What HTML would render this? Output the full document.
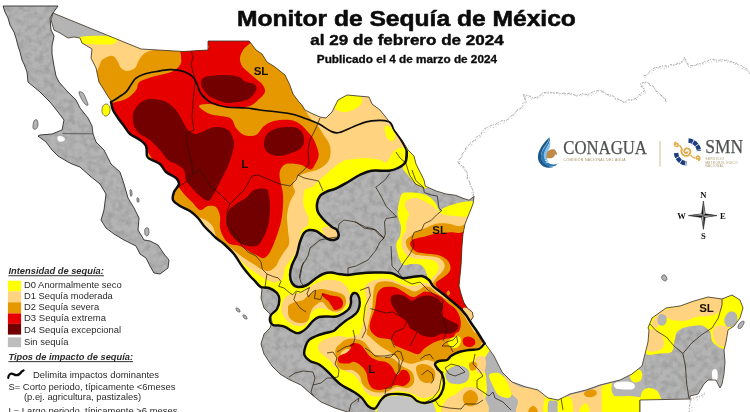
<!DOCTYPE html>
<html lang="es"><head><meta charset="utf-8"><title>Monitor de Sequía de México</title>
<style>html,body{margin:0;padding:0;background:#fff}body{width:750px;height:412px;overflow:hidden;position:relative;font-family:"Liberation Sans",Arial,sans-serif}svg{position:absolute;left:0;top:0;display:block}text{font-family:"Liberation Sans",Arial,sans-serif}.sf{font-family:"Liberation Serif","Times New Roman",serif}</style></head><body>
<svg width="750" height="412" viewBox="0 0 750 412">
<defs><clipPath id="land"><path d="M53 13 L141 49 L183 51.5 L208 50 L208 41 L249 41 L250 42 L256 50 L262 54 L267 62 L275 67 L285 75 L289.6 84.5 L293 94 L299 102 L301.5 104.5 L305 110 L313 114 L320 117 L326 118 L332 112 L335 106 L338 100 L347 95 L358 96 L369 97 L372 104 L380 110 L388 120 L394 130 L402 140 L408 150 L414 156 L416 164 L424 180 L425.3 186.2 L436.3 191 L446 194 L455.7 195.3 L463 198.3 L469 200.2 L474 196.5 L473 204 L469 214 L465 224 L463 234 L462 246 L461 266 L459 286 L461.4 295 L463.8 302.3 L467.5 308.3 L472.3 312 L473.2 316.8 L470.5 321 L474 327 L476 330 L484 342 L494 356 L502 372 L512 382 L526 387 L538 390 L548 398 L558 400 L570 394 L586 390 L600 385 L608 383 L620 380 L632 374 L642 366 L645 354 L648 342 L649 330 L648 328 L652 318 L666 308 L680 306 L694 301 L708 297 L722 299 L732 295 L740 300 L743 308 L740 318 L734 326 L728 330 L726 342 L724 350 L725 362 L724 374 L722 384 L720 388 L716 380 L708 380 L704 384 L698 394 L690 396 L690 399 L640 400 L640 414 L349 414 L349 412.5 L335 408 L321 402 L311 394 L301 385 L290 380 L280 374 L272 366 L264 354 L261 344 L264 334 L270 328 L272 322 L270 314 L264 308 L261 298 L262 289 L258 286 L250 276 L242 266 L234 254 L225 246 L224 244 L216 238 L210 232 L204 226 L198 218 L190 211 L180 206 L173 200 L174 192 L179 184 L176 178 L166 172 L160 164 L150 159 L147 156 L146 146 L140 140 L130 134 L124 126 L118 118 L113 110 L112 102 L109 98 L104 90 L99 82 L96 68 L91 58 L92 49 L82 43 L80 38 L74 37 L68 38 L60 33 L54 30 L51 20Z"/></clipPath>
<clipPath id="greys"><path d="M406.7 151.6 L405.5 162 L398 168 L389 170.7 L371.5 170.7 L359.7 175 L348 182 L336 188.5 L328 191 L320 196 L317 204 L318 212 L324 220 L332 227 L337 230 L338.4 237 L334 240 L328 239 L322 235 L316 231 L309 230 L304 233 L300 242 L297 254 L292 265 L290 275 L292 283 L298 287 L307 285 L315 279 L323 274 L331 272.6 L339 274 L348 275 L359 273.4 L375 272.6 L391 273 L402 278 L412 277 L422 276 L429 280 L427 275.2 L426 272 L423.8 267.8 L419.6 264.6 L411 264 L403.5 265 L399.5 259 L397 250.7 L396.5 243 L400 236 L401 227 L399 220 L397.5 213 L399 203 L401.8 194 L408.7 192.5 L420.9 193.4 L427.8 196 L433 200 L436.5 205 L439.9 211.6 L443.5 208 L453 204.4 L463 202 L470 201.3 L480 201 L480 185 L440 186 L426 187 L417 183.5 L411 175 L407 163Z"/><path d="M255 300 L261 287 L269 288 L277 293 L279.4 300 L277 309 L271 315 L270 321 L273 325 L279 325.5 L285 326.8 L291 330.5 L296 333 L300.8 332.3 L306.8 328 L313 320.8 L319 317 L327.5 316.5 L336 316.5 L343 313.5 L349 308.6 L351 303 L351 297 L354 293 L358 295 L359.8 303 L357.8 311 L353 316 L345.7 320.8 L337 328 L333.5 331 L323.8 333.5 L315 336.5 L309 340 L305.6 346 L304.4 354.7 L310 361 L320 365 L330 374 L340 384 L354 392 L362 398 L368 406 L375 408.5 L376 416 L250 416Z"/><path d="M676.5 333 L686.7 327 L702 325.6 L709.5 330.7 L712 340.8 L722 348.4 L730 348.4 L730 392 L690 402 L640 402 L640 414 L614 414 L614 397 L612 390 L616 381 L630 380 L644 384 L644 366 L647 354 L660 353 L671.5 352 L674 343Z"/></clipPath>
<clipPath id="bajac"><path d="M3 6 L58 6 L53 13 L50 18 L51 30 L54 36 L52 46 L52 54 L54 66 L56 76 L59 82 L66 90 L76 100 L80 108 L88 118 L92 126 L93 134 L96 142 L104 150 L108 158 L111 164 L120 172 L124 184 L128 198 L134 208 L139 218 L138 230 L144 240 L150 241 L158 245 L164 254 L169 260 L168 268 L160 274 L154 273 L150 266 L146 258 L140 254 L136 246 L124 240 L114 234 L106 228 L101 220 L104 210 L106 194 L100 184 L90 176 L80 167 L72 164 L68 162 L58 156 L52 150 L46 142 L38 136 L40 135 L52 134 L62 130 L64 120 L58 112 L50 102 L40 92 L28 82 L27 72 L24 64 L22 60 L20 52 L18 46 L16 38 L14 32 L10 25 L8 18 L5 12Z"/></clipPath>
<filter id="relief" x="0" y="0" width="100%" height="100%"><feTurbulence type="fractalNoise" baseFrequency="0.16" numOctaves="3" seed="11" result="n"/><feColorMatrix in="n" type="matrix" values="0 0 0 0 0.15  0 0 0 0 0.15  0 0 0 0 0.15  1.1 0 0 0 -0.42"/></filter>
<filter id="soft" x="-5%" y="-5%" width="110%" height="110%"><feGaussianBlur stdDeviation="0.35"/></filter></defs>
<path d="M689.7 398.4 L690.3 400.7 L690.1 403.8 L689.2 406.5 L689.2 408.9 L689.2 410.8 L690 414" fill="none" stroke="#6e6e6e" stroke-width="0.6" stroke-dasharray="2.6 0.9 1.2 1.4"/>
<path d="M690.6 401.1 L689.8 401.7 L691.1 405.7 L691 406.5 L692 407.7 L691.7 410.5 L689.9 412.2 L690.8 415.3" fill="none" stroke="#8a8a8a" stroke-width="0.5" stroke-dasharray="1.4 1.8 0.8 2.4"/>
<path d="M689.7 399.6 L691.9 398.6 L695.3 397.8 L697.6 396.7 L699.2 396.5 L702.3 395.2 L703.7 393.8 L706 392" fill="none" stroke="#6e6e6e" stroke-width="0.6" stroke-dasharray="2.6 0.9 1.2 1.4"/>
<path d="M690.7 399.8 L693.6 400.4 L694.1 399.7 L696.9 400.1 L699.4 398.1 L702 397.3 L702.6 397.3 L703.9 394.9 L706.8 393.3" fill="none" stroke="#8a8a8a" stroke-width="0.5" stroke-dasharray="1.4 1.8 0.8 2.4"/>
<path d="M473.2 196.3 L473.5 193.1 L472.7 189.7 L471.6 187.8 L470.5 185.1 L470.2 183.6 L468.8 180.7 L467.2 178.4 L467.5 176.4 L467.1 172.6 L465.5 170.8 L464.1 167.9 L462.7 165.8 L460.7 165.5 L459.1 163 L457.8 162.7 L458.4 159.9 L460.4 158.7 L462 156.7 L462.2 153.8 L463.5 152.7 L465.7 149.4 L465.4 147.5 L467.1 146.4 L469.4 144.4 L469.9 143.1 L472.2 141.7 L474.8 140.3 L475.7 138.5 L477.7 135.9 L479.7 135.5 L481.3 133.9 L482.1 131.5 L483.3 130.2 L485.2 128.2 L487.5 127.4 L489.7 126.2 L491.1 125.4 L493.3 124.8 L495.1 124.7 L498.5 122.4 L500.2 121.7 L502.8 120.3 L506 120.9 L507.6 119 L509.3 117.3 L511.4 115.9 L513.9 114.1 L514.1 113.8 L516.7 110.7 L518.4 108.8 L520.1 108.9 L522.2 106.4 L522.6 103.8 L523.9 102.5 L526.1 100.5 L524.4 97.5 L523.9 96.9 L522.6 94.6 L525 95.2 L526.3 95.6 L528.9 95.6 L530.8 96.8 L533.6 98.3 L536.8 96.9 L538.8 96.9 L540.8 94.8 L541.5 93.5 L543.5 92.5 L546.2 92.7 L548.9 92.1 L550.8 92.8 L552.1 92.7 L555.9 93.1 L557.9 92.7 L559.1 93.4 L561.7 93.5 L565.1 93.1 L566.3 94.3 L569.2 93.2 L570.3 93.4 L574 94.8 L574.9 95.1 L578.6 95 L579.7 95.1 L581.8 93.6 L585.8 94.3 L587.5 94.3 L589.9 93.7 L593.1 91.7 L594.6 91.1 L597 90.9 L599.6 89.9 L601.3 91.7 L603.7 91.9 L606.2 93.7 L607.9 94.8 L610 95.1 L612 95.1 L613.9 96.4 L615.1 98.5 L617.4 99 L620.4 100.1 L621.7 101 L624.1 102.5 L625.7 101.3 L628.3 100 L631.7 99.6 L633.7 99.3 L636.7 97.9 L637.8 96.4 L639.2 95.1 L640.7 93.3 L642.4 92.4 L644.4 90.7 L643.5 87.6 L641.4 86.8 L640.6 83.3 L642 83.2 L644.6 82.2 L647.2 82.3 L650.1 84.3 L650.6 85.6 L653.1 86.2 L655.1 89.2 L655.5 90.8 L657.4 91.6 L660.1 93.8 L660.2 94.7 L662.4 96.1 L663.5 97.7 L665.4 99.1 L666 102" fill="none" stroke="#6e6e6e" stroke-width="0.6" stroke-dasharray="2.6 0.9 1.2 1.4"/>
<path d="M474.9 197.1 L472.9 194.9 L473.8 193.3 L471.7 192.6 L472.9 190.5 L470.4 186.7 L469.6 186 L469.5 182.3 L469.3 182.4 L469.6 178.7 L467.3 178.4 L467.8 175.8 L465.9 172.1 L466.9 171.1 L464.7 170.4 L464.4 168.6 L461.2 167.2 L459.4 165.7 L458.7 162.9 L459.9 162.7 L460.2 158.8 L461.9 157.4 L461.8 155.4 L462.6 153.8 L464.3 152.3 L466.5 150.5 L466.8 148.5 L468 146.4 L469.4 144.8 L472.2 144.6 L472.4 142.8 L475.9 140.3 L477.1 139.7 L477.6 139.3 L478.8 137 L481 136.8 L481.5 135 L483.9 133.1 L484.6 130.9 L485.6 129.3 L487.7 129.9 L490.2 127.4 L491.7 128.2 L495.8 126.7 L496.2 124.6 L498.3 124.3 L499.9 123.4 L502.2 123.9 L506 122 L506.1 122.2 L508.3 119.8 L509.5 119 L512.2 117.9 L512.9 116.5 L513.8 114.4 L515.4 113.3 L516.8 110.9 L518.9 110 L521 109.4 L522.7 108.1 L523.8 107.1 L524.1 104 L526.9 102 L527.4 101.7 L524.3 100.2 L525.2 97.6 L523.4 96.1 L523.9 96 L526.8 97.5 L529.6 98.1 L531 99 L533.3 99.1 L534.1 98.1 L535.8 97.9 L537.8 98.2 L541 96.6 L543.1 95.8 L544.8 93 L547.6 93.9 L548.8 93.5 L551.2 92.4 L553.4 93 L553.7 93.2 L557.4 93.2 L559.4 95.3 L560.8 93.9 L562.7 94.8 L565.5 94.8 L567.2 93.6 L567.9 94.3 L571.4 94.7 L573 94.1 L573.7 95 L577.2 96.4 L579.3 95.5 L580.8 96.2 L582.7 94.9 L585.8 94.7 L588 96.2 L587.5 94.6 L591.6 95.5 L592.7 93.1 L594 94.3 L596 92.7 L597.9 92 L602 90.3 L603.6 92.3 L605.8 93.8 L606.1 95.3 L608.8 94.1 L609.5 96.3 L612.7 96.8 L613.9 97.9 L616.3 100.2 L617.5 101 L621.7 100.3 L623.9 102.9 L625.8 102.8 L626.5 102.4 L630.1 102.2 L630.4 101.1 L632.2 99.5 L633.8 100.8 L636.2 100.4 L637.7 97.1 L640 95.3 L641.3 95.7 L644.2 93.7 L645.1 92.4 L644.6 89.4 L642.7 86.1 L641.4 85.2 L643.5 85.2 L644.2 83.1 L647.9 82.8 L648.7 82.9 L649.9 85.5 L653.2 85.9 L654 87.6 L655.3 89.4 L655.9 90.4 L657.6 94 L660 93.8 L662.7 97.4 L663.1 96.8 L664 98.2 L665.4 100.2 L666.8 103.3" fill="none" stroke="#8a8a8a" stroke-width="0.5" stroke-dasharray="1.4 1.8 0.8 2.4"/>
<path d="M643.5 75.6 L646 75.4 L648.1 73.2 L649.3 72 L651.1 70.4 L652.4 68.9 L655.8 67.3 L657.5 67.7 L660.7 66.5 L662.1 66 L664.8 65.9 L668.4 66.2 L670.9 64.3 L672 65.2 L676.1 64.4 L678.2 63.1 L679.6 63.3 L682.1 61.6 L684.1 59 L684.3 57.4 L686 61 L687.8 63.7 L688.3 66.5 L690.3 65.7 L692 65.7 L694.7 65.6 L697.9 64 L699.3 63.6 L702.7 63.4 L704.3 61.2 L707.5 61.1 L709.8 59.5 L712.7 59.1 L714.6 59.9 L718.3 60.3 L720.7 60 L722 59.5 L725.8 60.4 L727.2 59.9 L730 61.8 L732.4 61.8 L735.3 63.8 L736.5 63.2 L738.7 64.9 L741.3 65.5 L743.5 67.4 L745 67.5 L747.5 69.7 L748.9 71.5 L750 74" fill="none" stroke="#6e6e6e" stroke-width="0.6" stroke-dasharray="2.6 0.9 1.2 1.4"/>
<path d="M644.1 78 L646.1 77.1 L648.5 73.8 L649.6 73.1 L652.6 73.1 L653 70.4 L655.1 70.5 L656.9 67.7 L658.7 68.2 L662.8 69.1 L664.4 69 L666.9 66.9 L667.1 68.1 L670.8 65.4 L672.7 66 L674.1 65.5 L675.8 64.3 L678.2 64.9 L681.7 62.8 L683.5 61.5 L683.7 61.6 L686.6 59.1 L685.4 61.2 L687 64.4 L687.3 64.9 L689.8 66.1 L690.6 67.8 L693.5 65.4 L693.6 65.2 L697.9 65.3 L699.4 66.7 L700.4 64.7 L704 64.8 L704.2 64.3 L706.3 62.3 L707.5 62.8 L711.9 61.6 L714.1 60.1 L714.4 61.2 L718.4 62.5 L719.1 60.7 L721.3 61.3 L724.8 60.5 L726.6 61.9 L728.6 62.6 L730.1 62.1 L731.3 62.7 L734.5 62.6 L735 65 L737.1 64.2 L738.6 66.4 L741.3 68.5 L744.8 69.6 L745.2 68.2 L746.4 71.3 L749.7 73.2 L750.8 75.3" fill="none" stroke="#8a8a8a" stroke-width="0.5" stroke-dasharray="1.4 1.8 0.8 2.4"/>
<g filter="url(#soft)">
<path d="M3 6 L58 6 L53 13 L50 18 L51 30 L54 36 L52 46 L52 54 L54 66 L56 76 L59 82 L66 90 L76 100 L80 108 L88 118 L92 126 L93 134 L96 142 L104 150 L108 158 L111 164 L120 172 L124 184 L128 198 L134 208 L139 218 L138 230 L144 240 L150 241 L158 245 L164 254 L169 260 L168 268 L160 274 L154 273 L150 266 L146 258 L140 254 L136 246 L124 240 L114 234 L106 228 L101 220 L104 210 L106 194 L100 184 L90 176 L80 167 L72 164 L68 162 L58 156 L52 150 L46 142 L38 136 L40 135 L52 134 L62 130 L64 120 L58 112 L50 102 L40 92 L28 82 L27 72 L24 64 L22 60 L20 52 L18 46 L16 38 L14 32 L10 25 L8 18 L5 12Z" fill="#b4b4b4" stroke="#2a2a2a" stroke-width="0.9" stroke-linejoin="round"/>
<path d="M57 137C57.3 136.1 59.7 135.8 61 136C62.3 136.2 64.5 137.2 65 138C65.5 138.8 65 140.4 64 141C63 141.6 60.2 142.2 59 141.5C57.8 140.8 56.7 137.9 57 137Z" fill="#ffffff" stroke="none" stroke-width="0.6"/>
<path d="M79 92C79.3 91.2 81.8 91.8 83 93C84.2 94.2 85.2 97 86 99C86.8 101 88.2 104.2 88 105C87.8 105.8 86.2 105.2 85 104C83.8 102.8 82 100 81 98C80 96 78.7 92.8 79 92Z" fill="#b4b4b4" stroke="#333" stroke-width="0.6"/>
<path d="M103 106C103.8 104.7 105.8 103.7 107 104C108.2 104.3 109.7 106.3 110 108C110.3 109.7 109.8 112.7 109 114C108.2 115.3 106.2 116.3 105 116C103.8 115.7 102.3 113.7 102 112C101.7 110.3 102.2 107.3 103 106Z" fill="#ffff00" stroke="#333" stroke-width="0.6"/>
<path d="M34 121C34.7 119.7 36.3 119.3 37 120C37.7 120.7 38.2 123.5 38 125C37.8 126.5 36.8 128.5 36 129C35.2 129.5 33.3 129.3 33 128C32.7 126.7 33.3 122.3 34 121Z" fill="#b4b4b4" stroke="#333" stroke-width="0.6"/>
<path d="M145 229C145.5 228 147.3 227.3 148 228C148.7 228.7 149.2 231.7 149 233C148.8 234.3 147.7 235.8 147 236C146.3 236.2 145.3 235.2 145 234C144.7 232.8 144.5 230 145 229Z" fill="#b4b4b4" stroke="#333" stroke-width="0.6"/>
<path d="M130 190C130.2 189.1 131.3 189.7 131.6 190.5C131.9 191.3 132.2 194.1 132 195C131.8 195.9 130.9 196.8 130.6 196C130.3 195.2 129.8 190.9 130 190Z" fill="#b4b4b4" stroke="#333" stroke-width="0.6"/>
<path d="M137 198C137.2 197.4 138.3 197.8 138.6 198.4C138.9 199 139.2 201 139 201.6C138.8 202.2 137.7 202.6 137.4 202C137.1 201.4 136.8 198.6 137 198Z" fill="#b4b4b4" stroke="#333" stroke-width="0.6"/>
<path d="M236 308C236.3 307.7 238.3 308.3 239 309C239.7 309.7 240.3 311.7 240 312C239.7 312.3 237.7 311.7 237 311C236.3 310.3 235.7 308.3 236 308Z" fill="#b4b4b4" stroke="#333" stroke-width="0.6"/>
<path d="M243 315C243.3 314.7 245.3 315.3 246 316C246.7 316.7 247.3 318.7 247 319C246.7 319.3 244.7 318.7 244 318C243.3 317.3 242.7 315.3 243 315Z" fill="#b4b4b4" stroke="#333" stroke-width="0.6"/>
<path d="M662 276C662.5 275.3 664.2 274.5 665 275C665.8 275.5 667 278 667 279C667 280 665.8 281 665 281C664.2 281 662.5 279.8 662 279C661.5 278.2 661.5 276.7 662 276Z" fill="#b4b4b4" stroke="#333" stroke-width="0.6"/>
<path d="M739 324C739.8 322.8 742.2 321.2 743 321C743.8 320.8 744.3 321.8 744 323C743.7 324.2 742 327.2 741 328C740 328.8 738.3 328.7 738 328C737.7 327.3 738.2 325.2 739 324Z" fill="#b4b4b4" stroke="#333" stroke-width="0.6"/>
<path d="M62.5 133.6L93 133.8" fill="none" stroke="#3a3a3a" stroke-width="0.7"/>
<g clip-path="url(#land)">
<rect x="0" y="0" width="750" height="412" fill="#b4b4b4"/>
<path d="M78 37.5 L108 36.5 L150 46 L210 38 L252 38 L300 80 L340 90 L375 95 L420 150 L420 170 L340 200 L345 245 L300 300 L230 300 L100 120 L90 60Z" fill="#ffd37f"/>
<path d="M80 37C84.3 35.8 101.8 35.6 108 36C114.2 36.4 116.2 38.2 117 39.5C117.8 40.8 115.8 43.2 113 44C110.2 44.8 103.8 44.5 100 44.5C96.2 44.5 93 44.2 90 44C87 43.8 83.7 44.7 82 43.5C80.3 42.3 75.7 38.2 80 37Z" fill="#ffff00"/>
<path d="M335 97C337 94.3 342.8 92.2 347 92C351.2 91.8 357.7 94 360 96C362.3 98 362.2 101.7 361 104C359.8 106.3 356 108.7 353 110C350 111.3 346 112.3 343 112C340 111.7 336.3 110.5 335 108C333.7 105.5 333 99.7 335 97Z" fill="#ffff00"/>
<path d="M384.7 127C385.2 125.2 388.3 125.8 390 127C391.7 128.2 394.5 131.7 395 134C395.5 136.3 394.3 140.3 393 141C391.7 141.7 388.4 140.3 387 138C385.6 135.7 384.2 128.8 384.7 127Z" fill="#ffff00"/>
<path d="M410 146 L404 147 L398 148.5 L393.5 151.6 L389 159 L386 163 L380 160 L377 159 L362.7 158 L345 160 L338 164 L332 169 L321.6 178 L312.8 186.8 L304 190 L303 202 L305 210 L309 218 L308 225 L302 230 L299 240 L297 252 L293 258 L300 262 L345 250 L350 200 L420 175Z" fill="#ffff00"/>
<path d="M296 253 L285 267 L283 279 L275 283 L265 279 L256 273 L246 266 L238 258 L232 262 L250 290 L262 330 L300 345 L305 365 L340 395 L370 416 L470 416 L470 380 L490 350 L480 330 L440 280 L350 262Z" fill="#ffff00"/>
<path d="M95 86C93.3 78.3 98.3 68.7 100 64C101.7 59.3 102.8 59.3 105 58C107.2 56.7 110.8 55.3 113 56C115.2 56.7 116.7 60 118 62C119.3 64 119.5 66.5 121 68C122.5 69.5 124.7 71 127 71C129.3 71 133 69.8 135 68C137 66.2 137.3 62.5 139 60C140.7 57.5 142.3 54.7 145 53C147.7 51.3 150 50.5 155 50C160 49.5 167.5 50.7 175 50C182.5 49.3 194.2 48 200 46C205.8 44 201.3 39.3 210 38C218.7 36.7 243.3 35.7 252 38C260.7 40.3 259 48 262 52C265 56 266.7 58.7 270 62C273.3 65.3 278.3 69 282 72C285.7 75 289.7 76.7 292 80C294.3 83.3 294.5 88.3 296 92C297.5 95.7 299.5 99 301 102C302.5 105 303.3 107.2 305 110C306.7 112.8 308.8 116.3 311 119C313.2 121.7 316 123.5 318 126C320 128.5 321 130.7 323 134C325 137.3 329 141.7 330 146C331 150.3 330.8 156.2 329 160C327.2 163.8 323.2 166.7 319 169C314.8 171.3 307.8 172.1 304 173.6C300.2 175.1 297.8 175.9 296 178C294.2 180.1 293.2 183.7 293 186C292.8 188.3 295.5 189.3 295 192C294.5 194.7 291.3 198 290 202C288.7 206 287.3 211.3 287 216C286.7 220.7 287.7 225.3 288 230C288.3 234.7 289.7 240.3 289 244C288.3 247.7 285.7 249.3 284 252C282.3 254.7 280.3 257.7 279 260C277.7 262.3 277.7 264.2 276 266C274.3 267.8 271.5 270.5 269 271C266.5 271.5 263.3 270 261 269C258.7 268 257.8 266.8 255 265C252.2 263.2 247.2 260.2 244 258C240.8 255.8 238.7 254 236 252C233.3 250 231 248 228 246C225 244 220.2 242.2 218 240C215.8 237.8 215.8 235.2 215 233C214.2 230.8 214.2 228.9 213 227C211.8 225.1 210 223 208 221.5C206 220 203.3 219.1 201 218C198.7 216.9 196.7 216.7 194 215C191.3 213.3 188.7 210.5 185 208C181.3 205.5 176.2 204.7 172 200C167.8 195.3 165.3 188.3 160 180C154.7 171.7 148.3 161.7 140 150C131.7 138.3 117.5 120.7 110 110C102.5 99.3 96.7 93.7 95 86Z" fill="#e69800"/>
<path d="M110 105C109.5 102.5 110.3 103.8 113 102.8C115.7 101.8 122.6 100.9 126.4 98.8C130.2 96.7 134 92.9 136 90.3C138 87.7 137.1 84.8 138.5 83C139.9 81.2 141.6 80.6 144.6 79.4C147.6 78.2 152.6 76.9 156.7 75.8C160.8 74.7 165.7 73.8 168.9 72.7C172.1 71.7 174 71.1 176 69.5C178 67.9 180.2 65.2 181 63C181.8 60.8 180.7 58.2 181 56C181.3 53.8 178.5 51.3 183 50C187.5 48.7 203.8 49.7 208 48C212.2 46.3 201.2 41.3 208 40C214.8 38.7 243.2 38.3 249 40C254.8 41.7 244.5 47 243 50C241.5 53 240.2 55.3 240 58C239.8 60.7 240.7 63.7 242 66C243.3 68.3 245.8 70 248 72C250.2 74 252.7 76 255 78C257.3 80 260.3 81.7 262 84C263.7 86.3 265.7 89.3 265 92C264.3 94.7 260.5 97.7 258 100C255.5 102.3 253.7 104.7 250 106C246.3 107.3 241 108 236 108C231 108 224.3 106.7 220 106C215.7 105.3 213.5 104 210 104C206.5 104 199 104.3 199 106C199 107.7 204.8 112 210 114C215.2 116 225.7 115.7 230 118C234.3 120.3 233.7 125.2 236 128C238.3 130.8 240.7 133.8 244 135C247.3 136.2 252.7 136.5 256 135C259.3 133.5 261 128.3 264 126C267 123.7 269.7 122 274 121C278.3 120 285.7 119.5 290 120C294.3 120.5 297 122 300 124C303 126 305.7 129.3 308 132C310.3 134.7 312.2 136.2 314 140C315.8 143.8 318.5 150.4 318.7 154.5C318.9 158.6 316.4 162 315 164.5C313.6 167 312.8 169.4 310.5 169.5C308.2 169.6 304.8 165.8 301 164.8C297.2 163.8 291.2 163.1 288 163.5C284.8 163.9 283.4 165.2 282 167C280.6 168.8 279.7 171.2 279.5 174C279.3 176.8 280.4 180.7 281 184C281.6 187.3 282.7 190.3 283 194C283.3 197.7 283.3 201.3 283 206C282.7 210.7 282.2 216.7 281 222C279.8 227.3 277.8 233 276 238C274.2 243 272 248.7 270 252C268 255.3 266 257.3 264 258C262 258.7 260.3 257 258 256C255.7 255 253 253.7 250 252C247 250.3 243.3 247.3 240 246C236.7 244.7 232.7 245.3 230 244C227.3 242.7 225.7 240.7 224 238C222.3 235.3 220.7 231.7 220 228C219.3 224.3 220.7 219.5 220 216C219.3 212.5 218 208.7 216 207C214 205.3 210.7 205.5 208 206C205.3 206.5 202.7 210.7 200 210C197.3 209.3 194.7 204.7 192 202C189.3 199.3 186.3 196.7 184 194C181.7 191.3 180.3 189 178 186C175.7 183 173.3 179.3 170 176C166.7 172.7 162 170.3 158 166C154 161.7 149.3 154 146 150C142.7 146 141.3 145.3 138 142C134.7 138.7 129.7 134 126 130C122.3 126 118.7 122.2 116 118C113.3 113.8 110.5 107.5 110 105Z" fill="#e60000"/>
<path d="M201.2 81.3C201.6 79.9 202.4 78.4 204 77.5C205.6 76.6 207.8 76.1 211 75.7C214.2 75.3 219 75 223 75C227 75 232 75.2 235 75.7C238 76.2 239.4 77.1 241 78C242.6 78.9 243.2 80.5 244.5 81.3C245.8 82.1 247.4 82.4 249 82.8C250.6 83.2 252.8 82.6 254 83.7C255.2 84.8 257 87 256.5 89.3C256 91.6 252.9 95.4 251 97.3C249.1 99.2 247.2 99.7 245 100.5C242.8 101.3 241 101.6 238 102C235 102.4 230.5 103.4 227 103C223.5 102.6 220 100.9 217 99.7C214 98.5 211.1 97.5 209 96C206.9 94.5 205.7 92.7 204.4 91C203.2 89.3 202 87.6 201.5 86C201 84.4 200.8 82.7 201.2 81.3Z" fill="#730000"/>
<path d="M133 114C133.7 110.5 135.5 107.5 138 105C140.5 102.5 144.3 99.8 148 99C151.7 98.2 156.7 99.3 160 100C163.3 100.7 165.3 101.3 168 103C170.7 104.7 173.7 107.2 176 110C178.3 112.8 180 116.7 182 120C184 123.3 185.7 127.7 188 130C190.3 132.3 193 134 196 134C199 134 202.7 131.2 206 130C209.3 128.8 212.3 127 216 127C219.7 127 225 127.5 228 130C231 132.5 233.3 138 234 142C234.7 146 233 150 232 154C231 158 229.7 162 228 166C226.3 170 223.8 174.3 222 178C220.2 181.7 218.7 184.8 217 188C215.3 191.2 213.5 194.8 212 197C210.5 199.2 210 201.2 208 201C206 200.8 202.7 198.2 200 196C197.3 193.8 194.3 190.7 192 188C189.7 185.3 187.3 183 186 180C184.7 177 185.7 172.7 184 170C182.3 167.3 178.7 165.7 176 164C173.3 162.3 170.7 162.3 168 160C165.3 157.7 163 153.3 160 150C157 146.7 153.3 142.7 150 140C146.7 137.3 142.7 136.3 140 134C137.3 131.7 135.2 129.3 134 126C132.8 122.7 132.3 117.5 133 114Z" fill="#730000"/>
<path d="M264 142C264.5 139.3 265.7 135.3 268 133C270.3 130.7 274 129 278 128C282 127 288.3 126.7 292 127C295.7 127.3 298 128.2 300 130C302 131.8 303.7 135.2 304 138C304.3 140.8 303.7 144.7 302 147C300.3 149.3 297.7 150.5 294 152C290.3 153.5 284 155.7 280 156C276 156.3 272.5 155.2 270 154C267.5 152.8 266 151 265 149C264 147 263.5 144.7 264 142Z" fill="#730000"/>
<path d="M246 198C249 195.7 250.7 191.5 254 190C257.3 188.5 263.5 188 266 189C268.5 190 268.3 192.5 269 196C269.7 199.5 270.2 205 270 210C269.8 215 269.3 221 268 226C266.7 231 264 236.7 262 240C260 243.3 259 245.2 256 246C253 246.8 247.7 246.3 244 245C240.3 243.7 236.8 241.2 234 238C231.2 234.8 228 230.3 227 226C226 221.7 226.5 215.7 228 212C229.5 208.3 233 206.3 236 204C239 201.7 243 200.3 246 198Z" fill="#730000"/>
<path d="M364.8 289C365 285.4 366.4 284.7 368 283.2C369.6 281.7 371.7 280.8 374.4 280C377.1 279.2 380.8 278.4 384 278.4C387.2 278.4 391 279.2 393.7 280C396.4 280.8 397.6 282.3 400 283.2C402.4 284.1 405.3 285.2 408 285.6C410.7 286 413.3 285.9 416 285.5C418.7 285.1 421.5 283.2 424 283C426.5 282.8 428.3 283 431 284.5C433.7 286 436.8 289.6 440 292C443.2 294.4 447 296.8 450 299C453 301.2 455.5 302.8 458 305C460.5 307.2 463 309.2 465 312C467 314.8 468.2 318.7 470 322C471.8 325.3 474 329 476 332C478 335 480.7 338 482 340C483.3 342 484.5 342.5 484 344C483.5 345.5 481.5 348 479 349C476.5 350 472.3 349.5 469 350C465.7 350.5 462 351 459 352C456 353 453 354.7 451 356C449 357.3 449 359.2 447 360C445 360.8 440.5 360.5 439 361C437.5 361.5 440.3 362.3 438 363C435.7 363.7 431.3 365.2 425 365C418.7 364.8 407.5 364.5 400 362C392.5 359.5 385.7 353.7 380 350C374.3 346.3 369.5 342.2 366 340C362.5 337.8 359.3 340.2 359 337C358.7 333.8 362.7 326.3 364 321C365.3 315.7 366.9 310.3 367 305C367.1 299.7 364.6 292.6 364.8 289Z" fill="#ffd37f"/>
<path d="M374 289C374.6 286.7 375.1 284.5 376.8 283.2C378.5 281.9 381.5 281.4 384 281.2C386.5 281 389.3 281.3 392 282C394.7 282.7 397.3 284.1 400 285.2C402.7 286.3 405.7 287.8 408 288.8C410.3 289.9 412.2 291.3 414 291.5C415.8 291.7 417.3 290.8 419 290C420.7 289.2 422.2 287 424 286.5C425.8 286 428 286.1 430 287C432 287.9 433.7 290.2 436 292C438.3 293.8 441.3 296.3 444 298C446.7 299.7 449.3 300 452 302C454.7 304 457.3 306.7 460 310C462.7 313.3 465.7 318.3 468 322C470.3 325.7 472.3 328.3 474 332C475.7 335.7 478.7 341 478 344C477.3 347 473.7 348.3 470 350C466.3 351.7 460 352.3 456 354C452 355.7 449.3 358.7 446 360C442.7 361.3 439.3 362 436 362C432.7 362 430.3 359.7 426 360C421.7 360.3 414.3 364 410 364C405.7 364 403.3 362 400 360C396.7 358 393.3 354.3 390 352C386.7 349.7 383 348 380 346C377 344 374.2 341.8 372 340C369.8 338.2 367.5 338.2 367 335C366.5 331.8 368.2 325.3 369 321C369.8 316.7 371.3 313 372 309C372.7 305 372.7 300.3 373 297C373.3 293.7 373.4 291.3 374 289Z" fill="#e69800"/>
<path d="M376 301C376.4 298.6 376.3 297 376.8 295.2C377.3 293.4 378 291.7 379.2 290.4C380.4 289.1 381.9 287.8 384 287.2C386.1 286.6 389.6 286.5 392 286.8C394.4 287.1 396.4 287.8 398.5 288.8C400.6 289.8 403 291.6 404.9 292.8C406.8 294 408.1 295.3 409.7 296C411.3 296.7 412.8 297.3 414.5 297C416.2 296.7 418.2 294.9 420 294C421.8 293.1 422.9 291.7 425 291.5C427.1 291.3 430.1 292.1 432.8 293C435.6 293.9 439.2 295.5 441.5 297C443.8 298.5 444.3 299.9 446.7 302C449.1 304.1 453.7 306.5 456 309.5C458.3 312.5 459.9 316.6 460.5 320C461.1 323.4 460.8 327.2 459.7 330C458.6 332.8 456.1 335.5 453.6 337C451.2 338.5 448.1 338.2 445 339C441.9 339.8 438.3 340.5 435 342C431.7 343.5 427.7 346 425 348C422.3 350 421.3 353.3 419 354C416.7 354.7 414 353 411 352C408 351 403.7 349.2 401 348C398.3 346.8 396.4 346.4 394.7 345C393 343.6 393.9 341.1 391 339.8C388.1 338.5 380.7 338.6 377.3 337C373.9 335.4 371.5 332.6 370.4 330C369.2 327.4 369.7 325 370.4 321.6C371.1 318.2 373.8 312.9 374.7 309.5C375.6 306.1 375.6 303.4 376 301Z" fill="#e60000"/>
<path d="M391 297C391.6 295.7 392.6 294.9 394.7 294.7C396.8 294.5 400.4 294.6 403.3 295.6C406.2 296.6 409.4 300.6 412 300.8C414.6 301 416.1 297.9 419 297C421.9 296.1 426.1 295.3 429.3 295.6C432.5 295.9 435.7 297.3 438 299C440.3 300.7 442.6 303.4 443.2 306C443.8 308.6 440.1 312.1 441.5 314.7C442.9 317.3 449.1 319.9 451.9 321.6C454.6 323.3 457.1 323.6 458 325C458.9 326.4 458.3 328.6 457 330C455.7 331.4 452.6 333.1 450 333.7C447.4 334.3 444.4 333.1 441.5 333.7C438.6 334.2 436 336.7 432.8 337C429.6 337.3 425 336.3 422.4 335.5C419.8 334.7 419.2 333.2 417.2 332C415.2 330.8 412 330.2 410.3 328.5C408.6 326.8 408.5 323.6 406.8 321.6C405.1 319.6 401.9 318.4 399.9 316.4C397.9 314.4 396.2 311.8 394.7 309.5C393.2 307.2 391.6 304.6 391 302.5C390.4 300.4 390.4 298.3 391 297Z" fill="#730000"/>
<path d="M281 309C281 306 282.3 301.5 284 299C285.7 296.5 288.2 295 291 294C293.8 293 298.3 293.8 301 293C303.7 292.2 305 290.3 307 289C309 287.7 310 286.5 313 285C316 283.5 320.7 280.7 325 280C329.3 279.3 335.3 279.8 339 281C342.7 282.2 345.2 284.7 347 287C348.8 289.3 349.5 292.5 350 295C350.5 297.5 350.7 300.2 350 302C349.3 303.8 347.3 304.5 346 306C344.7 307.5 343.3 309.6 342 310.8C340.7 312 339.7 313.1 338 313.2C336.3 313.3 333.7 312.3 331.7 311.6C329.7 310.9 328.3 309.7 326 309.2C323.7 308.7 320.2 308.1 318 308.4C315.8 308.7 314.2 310.1 313 311C311.8 311.9 311.7 312.8 311 314C310.3 315.2 309.7 316.5 309 318C308.3 319.5 308.2 321.7 307 323C305.8 324.3 304.1 325.6 302 326C299.9 326.4 296.9 326.3 294.7 325.6C292.5 324.9 290.4 323.4 288.6 322C286.8 320.6 285.3 319.2 284 317C282.7 314.8 281 312 281 309Z" fill="#ffd37f"/>
<path d="M289 305C290.2 303.8 292.7 302.8 295 302C297.3 301.2 300.7 301.2 303 300C305.3 298.8 307 296.5 309 295C311 293.5 313 292 315 291C317 290 317.8 288.9 321 289C324.2 289.1 330.5 290.7 334 291.5C337.5 292.3 340.1 292.9 342 294C343.9 295.1 344.9 296.3 345.5 298C346.1 299.7 346.2 302.4 345.5 304.4C344.8 306.4 343.1 308.8 341.3 310C339.5 311.2 336.8 311.6 334.9 311.6C333 311.6 331.5 310.9 330 310C328.5 309.1 327.3 307.3 326 306C324.7 304.7 323.6 302.3 322 302C320.4 301.7 318 303.3 316.4 304.4C314.8 305.5 313.5 306.8 312.4 308.4C311.3 310 310.7 312.1 310 314C309.3 315.9 309.6 318.5 308.4 320C307.2 321.5 305.2 322.7 303 323C300.8 323.3 297.3 323 295 322C292.7 321 290.2 319.2 289 317C287.8 314.8 288 311 288 309C288 307 287.8 306.2 289 305Z" fill="#e69800"/>
<path d="M322 293.2C323.3 292.9 328.8 294.9 331.7 295.6C334.6 296.3 337.8 296.1 339.7 297.2C341.6 298.3 342.7 300.3 343 302C343.3 303.7 342.7 306.3 341.3 307.6C339.9 308.9 336.5 310.3 334.9 310C333.3 309.7 332.8 307.5 331.7 306C330.6 304.5 329.8 302.7 328.5 301.2C327.2 299.7 324.8 298.5 323.7 297.2C322.6 295.9 320.7 293.5 322 293.2Z" fill="#e60000"/>
<path d="M318 347C318.2 345 319.8 342.6 321.8 341C323.9 339.4 327.3 338.2 330.3 337.4C333.3 336.6 337 336 340 336C343 336 345.5 337.6 348.5 337.4C351.5 337.2 355.1 335.6 358 335C360.9 334.4 362.3 332.2 366 334C369.7 335.8 375.7 342.7 380 346C384.3 349.3 388 351.3 392 354C396 356.7 400 360.3 404 362C408 363.7 411.7 364 416 364C420.3 364 426.3 361.7 430 362C433.7 362.3 436.2 363.3 438 366C439.8 368.7 441 373.7 441 378C441 382.3 440.8 388.7 438 392C435.2 395.3 428.7 397.8 424 398C419.3 398.2 414.7 394.2 410 393C405.3 391.8 400.3 390.5 396 391C391.7 391.5 388 395.2 384 396C380 396.8 375.2 396.8 372 396C368.8 395.2 366.8 393.3 365 391.5C363.2 389.7 362.8 387.2 361.5 385C360.2 382.8 358.6 379.9 357 378C355.4 376.1 354.7 374.9 352 373.5C349.3 372.1 344 370.7 341 369.5C338 368.3 335.7 367.8 334 366.5C332.3 365.2 332.2 363.4 331 362C329.8 360.6 328.4 359.5 326.7 358C325 356.5 322.1 354.8 320.6 353C319.2 351.2 317.8 349 318 347Z" fill="#ffd37f"/>
<path d="M336.4 361C336.2 359.4 336.7 358.4 336.5 357C336.3 355.6 335.4 354.3 335.3 352.8C335.2 351.3 335.2 349.5 336 348C336.8 346.5 338.5 345.3 340 344C341.5 342.7 343.1 340.9 344.9 340C346.7 339.1 348.8 338.6 351 338.5C353.2 338.4 355.8 338.9 358 339.5C360.2 340.1 362.2 340.6 364 342C365.8 343.4 367.3 346 369 348C370.7 350 371.8 352.5 374 354C376.2 355.5 379 356.3 382 357C385 357.7 388.7 356.5 392 358C395.3 359.5 398.7 363.7 402 366C405.3 368.3 410 369.3 412 372C414 374.7 414.7 379.3 414 382C413.3 384.7 411 387.2 408 388C405 388.8 399.7 386.3 396 387C392.3 387.7 389.7 391.2 386 392C382.3 392.8 377.3 392.7 374 392C370.7 391.3 368 389.5 366 388C364 386.5 362.9 384.7 362 383C361.1 381.3 361.4 379.5 360.7 378C360 376.5 359.4 375.1 358 373.8C356.6 372.5 354.4 370.6 352 370C349.6 369.4 346.1 370.6 343.7 370C341.3 369.4 338.8 368 337.6 366.5C336.4 365 336.6 362.6 336.4 361Z" fill="#e69800"/>
<path d="M341 353C341.7 351.9 343.7 350.2 345 349.5C346.3 348.8 348.2 348.6 349 349C349.8 349.4 350.2 351 349.5 352C348.8 353 346.4 354.3 345 355C343.6 355.7 341.7 356.3 341 356C340.3 355.7 340.3 354.1 341 353Z" fill="#ffd37f"/>
<path d="M416 368C416.3 365.3 419.7 364.3 422 364C424.3 363.7 427.8 364.7 430 366C432.2 367.3 434.3 369.7 435 372C435.7 374.3 435.2 378.2 434 380C432.8 381.8 430.3 383 428 383C425.7 383 422 382.5 420 380C418 377.5 415.7 370.7 416 368Z" fill="#e69800"/>
<path d="M338 359.3C338 358.1 338.7 356.7 340 355.6C341.3 354.6 344.2 354.2 346 353C347.8 351.8 350.4 349.6 351 348.3C351.6 347 349.4 346.2 349.8 345.3C350.2 344.4 352 343.3 353.4 343C354.8 342.7 356.6 343 358 343.5C359.4 344 360.8 344.8 362 346C363.2 347.2 364.1 349 365.5 350.8C366.9 352.6 368.4 355.2 370.4 356.8C372.4 358.4 375.1 359.6 377.7 360.5C380.3 361.4 383.6 360.9 386 362C388.4 363.1 390.2 364.8 392 367C393.8 369.2 395.3 374.5 397 375C398.7 375.5 400.2 370.5 402 370C403.8 369.5 406.7 370.3 408 372C409.3 373.7 410.7 377.7 410 380C409.3 382.3 406.3 385.2 404 386C401.7 386.8 398.7 384.7 396 385C393.3 385.3 390.7 387.2 388 388C385.3 388.8 382.7 390 380 390C377.3 390 374 389.5 372 388C370 386.5 368.9 383.4 368 381C367.1 378.6 367.5 376 366.7 373.8C365.9 371.6 364.4 369.5 363 367.8C361.6 366.1 359.6 364.5 358 363.5C356.4 362.5 355 361.7 353.4 361.7C351.8 361.7 350.7 363.3 348.5 363.5C346.3 363.7 341.8 363.7 340 363C338.2 362.3 338 360.5 338 359.3Z" fill="#e60000"/>
<path d="M455 334C456.8 331.5 462.2 331 466 331C469.8 331 475.3 332.2 478 334C480.7 335.8 482.3 339.3 482 342C481.7 344.7 479.3 348.3 476 350C472.7 351.7 465.5 352.7 462 352C458.5 351.3 456.2 349 455 346C453.8 343 453.2 336.5 455 334Z" fill="#e69800"/>
<path d="M463 339C463.7 337.6 466.2 336.5 468 336.5C469.8 336.5 472.8 337.8 474 339C475.2 340.2 475.7 342.7 475 344C474.3 345.3 471.8 346.8 470 347C468.2 347.2 465.2 346.3 464 345C462.8 343.7 462.3 340.4 463 339Z" fill="#e60000"/>
<path d="M448 342C448.2 340.2 451.2 338.4 453 337.5C454.8 336.6 457.7 335.9 459 336.5C460.3 337.1 461.2 339.2 461 341C460.8 342.8 459.5 345.8 458 347C456.5 348.2 453.7 348.8 452 348C450.3 347.2 447.8 343.8 448 342Z" fill="#ffff00"/>
<path d="M406.7 151.6 L405.5 162 L398 168 L389 170.7 L371.5 170.7 L359.7 175 L348 182 L336 188.5 L328 191 L320 196 L317 204 L318 212 L324 220 L332 227 L337 230 L338.4 237 L334 240 L328 239 L322 235 L316 231 L309 230 L304 233 L300 242 L297 254 L292 265 L290 275 L292 283 L298 287 L307 285 L315 279 L323 274 L331 272.6 L339 274 L348 275 L359 273.4 L375 272.6 L391 273 L402 278 L412 277 L422 276 L429 280 L427 275.2 L426 272 L423.8 267.8 L419.6 264.6 L411 264 L403.5 265 L399.5 259 L397 250.7 L396.5 243 L400 236 L401 227 L399 220 L397.5 213 L399 203 L401.8 194 L408.7 192.5 L420.9 193.4 L427.8 196 L433 200 L436.5 205 L439.9 211.6 L443.5 208 L453 204.4 L463 202 L470 201.3 L480 201 L480 185 L440 186 L426 187 L417 183.5 L411 175 L407 163Z" fill="#b4b4b4"/>
<path d="M255 300 L261 287 L269 288 L277 293 L279.4 300 L277 309 L271 315 L270 321 L273 325 L279 325.5 L285 326.8 L291 330.5 L296 333 L300.8 332.3 L306.8 328 L313 320.8 L319 317 L327.5 316.5 L336 316.5 L343 313.5 L349 308.6 L351 303 L351 297 L354 293 L358 295 L359.8 303 L357.8 311 L353 316 L345.7 320.8 L337 328 L333.5 331 L323.8 333.5 L315 336.5 L309 340 L305.6 346 L304.4 354.7 L310 361 L320 365 L330 374 L340 384 L354 392 L362 398 L368 406 L375 408.5 L376 416 L250 416Z" fill="#b4b4b4"/>
<path d="M261 287 L269 288 L277 293 L279.4 300 L277 309 L271 315 L262 316 L255 300 L255 285Z" fill="#b4b4b4"/>
<g clip-path="url(#greys)" opacity="0.6"><rect x="0" y="0" width="750" height="412" filter="url(#relief)"/></g>
<path d="M318 213C319.7 213.2 322 218.8 324 221C326 223.2 330 224.7 330 226C330 227.3 326 228.3 324 229C322 229.7 320 230 318 230C316 230 312.7 230.7 312 229C311.3 227.3 313 222.7 314 220C315 217.3 316.3 212.8 318 213Z" fill="#ffff00"/>
<path d="M322 229C322.3 227.2 325.8 226.5 328 226.5C330.2 226.5 333.3 227.8 335 229C336.7 230.2 337.7 232.3 338 234C338.3 235.7 338.2 238 337 239C335.8 240 332.8 240.2 331 240C329.2 239.8 327.5 239.3 326 237.5C324.5 235.7 321.7 230.8 322 229Z" fill="#ffd37f"/>
<path d="M406.7 151.6 L422 160 L432 187 L424 188.5 L417 185 L411 179 L406 173 L402.5 168.5 L405.5 162Z" fill="#ffff00"/>
<path d="M399 203C399.7 199.8 400.2 195.8 401.8 194C403.4 192.2 405.5 192.6 408.7 192.5C411.9 192.4 417.7 192.8 420.9 193.4C424.1 194 425.8 194.9 427.8 196C429.8 197.1 431.6 198.5 433 200C434.4 201.5 435.4 203.1 436.5 205C437.6 206.9 438.7 211.1 439.9 211.6C441.1 212.1 441.3 209.2 443.5 208C445.7 206.8 449.8 205.4 453 204.4C456.2 203.4 460.2 202.5 463 202C465.8 201.5 467.5 201.5 470 201.3C472.5 201.1 474.7 201.1 478 201C481.3 200.9 488 182.3 490 201C492 219.7 491.7 293.8 490 313C488.3 332.2 483.9 315.6 480 316C476.1 316.4 469.6 316.9 466.3 315.6C463 314.3 462.6 310.7 460.2 308.3C457.8 305.9 454.3 303.2 451.7 301C449.1 298.8 446.3 296.6 444.4 295C442.4 293.4 441.9 293 440 291.5C438.1 290 434.8 287.9 433 286C431.2 284.1 430 281.8 429 280C428 278.2 427.5 276.5 427 275.2C426.5 273.9 426.5 273.2 426 272C425.5 270.8 424.9 269 423.8 267.8C422.7 266.6 421.7 265.2 419.6 264.6C417.5 264 413.7 263.9 411 264C408.3 264.1 405.4 265.8 403.5 265C401.6 264.2 400.6 261.4 399.5 259C398.4 256.6 397.5 253.4 397 250.7C396.5 248 396 245.4 396.5 243C397 240.6 399.2 238.7 400 236C400.8 233.3 401.2 229.7 401 227C400.8 224.3 399.6 222.3 399 220C398.4 217.7 397.5 215.8 397.5 213C397.5 210.2 398.3 206.2 399 203Z" fill="#ffff00"/>
<path d="M405 204.7C405.2 203.2 405.2 201.5 407 200.3C408.8 199.1 412.8 197.6 415.7 197.7C418.6 197.8 421.4 199.6 424.3 201C427.2 202.4 430.4 204.5 433 206.4C435.6 208.3 438 211.1 440 212.5C442 213.9 442.4 214.4 445 215C447.6 215.6 452 215.7 455.5 216C459 216.3 461.9 216.6 466 216.8C470.1 217 477.7 200.5 480 217C482.3 233.5 482.3 299.6 480 316C477.7 332.4 469.6 316.9 466.3 315.6C463 314.3 462.6 310.7 460.2 308.3C457.8 305.9 454.3 303.2 451.7 301C449.1 298.8 446.3 296.6 444.4 295C442.4 293.4 441.9 293 440 291.5C438.1 290 434.7 287.2 433 286C431.3 284.8 430.4 284.7 430 284C429.6 283.3 430.4 282.7 430.8 281.6C431.2 280.5 431.4 278.8 432.4 277.4C433.4 276 435.6 274.8 436.7 273C437.8 271.2 439 268.6 438.8 266.7C438.6 264.8 437.6 262.6 435.6 261.4C433.6 260.1 430.2 259.6 427 259.2C423.8 258.8 419.6 259.2 416.4 258.7C413.2 258.2 410.1 257.7 407.8 256C405.5 254.3 403.6 251.2 402.5 248.5C401.4 245.8 401.3 242.2 401.4 240C401.5 237.8 402.2 236.6 403 235C403.8 233.4 405.4 232.8 406 230.6C406.6 228.4 406.2 224 406.5 222C406.8 220 407.6 219.9 408 218.5C408.4 217.1 409.3 215.1 409 213.5C408.7 211.9 406.7 210.5 406 209C405.3 207.5 404.8 206.1 405 204.7Z" fill="#ffd37f"/>
<path d="M412 235C414.1 233.4 416.4 231.9 419 230.6C421.6 229.3 424.9 228.2 427.8 227C430.7 225.8 433 224.2 436.5 223.7C440 223.1 444.9 223.3 448.6 223.7C452.4 224.1 453.8 225.6 459 226.3C464.2 227 476.5 213.1 480 228C483.5 242.9 482.3 301.4 480 316C477.7 330.6 469.6 316.9 466.3 315.6C463 314.3 462.6 310.7 460.2 308.3C457.8 305.9 454.3 303.2 451.7 301C449.1 298.8 446.3 296.6 444.4 295C442.4 293.4 441.7 292.8 440 291.5C438.3 290.2 435.3 288.2 434 287C432.7 285.8 431.9 285.1 432 284C432.1 282.9 433.6 281.9 434.5 280.6C435.4 279.3 436.4 277.7 437.7 276.3C438.9 274.9 440.8 273.6 442 272C443.2 270.4 444.5 268.5 444.7 266.7C444.9 264.9 444.2 262.9 443 261.4C441.8 259.9 440.4 258.5 437.7 257.6C435 256.7 430.6 256.4 427 256C423.4 255.6 419.1 255.7 416.4 255C413.7 254.3 412.6 253.2 411 251.8C409.4 250.4 407.6 248.4 406.8 246.4C406 244.4 405.3 241.9 406.2 240C407.1 238.1 409.9 236.6 412 235Z" fill="#e69800"/>
<path d="M414 239C416.3 238.1 420.9 237.5 424.3 236.7C427.8 235.9 430.6 234.7 434.7 234C438.8 233.3 444.6 232.6 448.6 232.4C452.7 232.2 453.8 232.7 459 233C464.2 233.3 476.5 220.2 480 234C483.5 247.8 482.3 302.4 480 316C477.7 329.6 469.6 316.9 466.3 315.6C463 314.3 462.6 310.7 460.2 308.3C457.8 305.9 454.3 303.2 451.7 301C449.1 298.8 446.2 296.4 444.4 295C442.6 293.6 442.2 293.8 441 292.5C439.8 291.2 437.9 288.4 437 287C436.1 285.6 435.5 285 435.6 284C435.7 283 436.5 282.1 437.7 281C438.9 279.9 441.2 278.7 443 277.4C444.8 276.1 447.1 274.6 448.4 273C449.7 271.4 450.6 269.7 450.6 267.8C450.6 265.9 449.7 263.2 448.4 261.4C447.1 259.6 445.1 258.2 443 257C440.9 255.8 438.6 255 435.6 254.4C432.6 253.8 428.2 253.8 425 253.4C421.8 253 418.7 253 416.4 251.8C414.1 250.6 412 248 411 246.4C410 244.8 410 243.2 410.5 242C411 240.8 411.7 239.9 414 239Z" fill="#e60000"/>
<path d="M446.7 293C446.7 292.1 447.9 290.4 448.5 290.4C449.1 290.4 450 292.1 450 293C450 293.9 449.1 295.6 448.5 295.6C447.9 295.6 446.7 293.9 446.7 293Z" fill="#e69800"/>
<path d="M463 308C463.5 307.2 465.4 307.4 467 308C468.6 308.6 471.3 310 472.5 311.5C473.7 313 474.2 315.2 474 317C473.8 318.8 472.2 321.8 471 322C469.8 322.2 468.2 319.5 467 318C465.8 316.5 464.7 314.7 464 313C463.3 311.3 462.5 308.8 463 308Z" fill="#ffd37f"/>
<path d="M444 384 L442 374 L437 368 L435 364 L439 361 L447 360 L451 356 L459 352 L469 350 L479 349 L484 344 L488 352 L484 356 L483 366 L486 376 L487 390 L485 400 L484 414 L412 414 L412 397 L417 401 L425 403 L435 400 L441 394Z" fill="#ffff00"/>
<path d="M476 358C477.3 356.3 481.3 355.3 483 356C484.7 356.7 485.8 359.3 486 362C486.2 364.7 485.3 370.2 484 372C482.7 373.8 479.5 374 478 373C476.5 372 475.3 368.5 475 366C474.7 363.5 474.7 359.7 476 358Z" fill="#ffd37f"/>
<path d="M446 400C448 396.7 452.7 396.2 456 394C459.3 391.8 462.3 387.8 466 387C469.7 386.2 474.8 387.2 478 389C481.2 390.8 483.7 393.8 485 398C486.3 402.2 492.8 411.3 486 414C479.2 416.7 450.7 416.3 444 414C437.3 411.7 444 403.3 446 400Z" fill="#ffd37f"/>
<path d="M469 364C469.3 362.5 471.7 361.5 473 361.5C474.3 361.5 476.5 362.8 477 364C477.5 365.2 477 367.9 476 369C475 370.1 472.2 371.3 471 370.5C469.8 369.7 468.7 365.5 469 364Z" fill="#e69800"/>
<path d="M464 394C465.2 392.3 468 390.2 470 390C472 389.8 474.7 391.3 476 393C477.3 394.7 478.5 397.8 478 400C477.5 402.2 475 405.2 473 406C471 406.8 467.7 406 466 405C464.3 404 463.3 401.8 463 400C462.7 398.2 462.8 395.7 464 394Z" fill="#e69800"/>
<path d="M446 372C447 370.2 449.3 368 452 367C454.7 366 459.2 365.3 462 366C464.8 366.7 468 368.7 469 371C470 373.3 469.5 377.8 468 380C466.5 382.2 463 383.5 460 384C457 384.5 452.3 384 450 383C447.7 382 446.7 379.8 446 378C445.3 376.2 445 373.8 446 372Z" fill="#b4b4b4"/>
<path d="M379 404 L381 401.5 L387 396.5 L399 395.5 L411 397.5 L417 402.5 L425 404.5 L433 402 L437 414 L376 414Z" fill="#c4c4c4"/>
<path d="M489 375.5C489.2 373.4 492.1 373.2 494 373C495.9 372.8 498.1 372.5 500.4 374C502.7 375.5 506.1 378.6 508 381.8C509.9 385 511.8 390.3 511.8 393C511.8 395.7 510.3 397.8 508 398C505.7 398.2 500.4 396.6 497.9 394.5C495.4 392.4 494.3 388.8 492.8 385.6C491.3 382.4 488.8 377.6 489 375.5Z" fill="#ffff00"/>
<path d="M504 375C504.2 374.2 507.2 379 510 381C512.8 383 516.4 385.6 520.7 387C525 388.4 531.4 387.6 536 389.5C540.6 391.4 546.3 394.4 548.5 398.5C550.7 402.6 554.1 411.4 549 414C543.9 416.6 523.2 416.2 518 414C512.8 411.8 519 404.3 518 401C517 397.7 513.5 396.5 512 394C510.5 391.5 510.3 389.2 509 386C507.7 382.8 503.8 375.8 504 375Z" fill="#ffd37f"/>
<path d="M529 409C529.7 407.7 531.7 406 533 406C534.3 406 536.3 407.7 537 409C537.7 410.3 538.3 413.2 537 414C535.7 414.8 530.3 414.8 529 414C527.7 413.2 528.3 410.3 529 409Z" fill="#e69800"/>
<path d="M544.7 399C545.5 396.2 546.9 396.8 549 397C551.1 397.2 555.9 397.2 557.4 400C558.9 402.8 560.2 411.7 558 414C555.8 416.3 546.2 416.5 544 414C541.8 411.5 543.9 401.8 544.7 399Z" fill="#ffff00"/>
<path d="M548.5 402C549.2 399.8 551.5 400.8 553 400.8C554.5 400.8 556.6 399.8 557.4 402C558.2 404.2 559.5 412 558 414C556.5 416 550.1 416 548.5 414C546.9 412 547.8 404.2 548.5 402Z" fill="#b4b4b4"/>
<path d="M558 401 L571.3 394.5 L589 390.7 L601.7 385.6 L612 383 L613 414 L558 414Z" fill="#ffd37f"/>
<path d="M558.7 400C559.8 397.2 562.9 397.2 565 397C567.1 396.8 570.1 396.2 571.3 399C572.5 401.8 574.1 411.5 572 414C569.9 416.5 560.9 416.3 558.7 414C556.5 411.7 557.7 402.8 558.7 400Z" fill="#ffff00"/>
<path d="M584 393C584.5 391.9 587.2 390.3 589 389.8C590.8 389.3 593.7 389.3 595 390C596.3 390.7 597.2 392.8 596.7 394C596.2 395.2 593.8 396.6 592 397C590.2 397.4 587.3 397.2 586 396.5C584.7 395.8 583.5 394.1 584 393Z" fill="#e69800"/>
<path d="M580 409C580.7 407.3 582.7 404.7 584 404C585.3 403.3 587.2 403.3 588 405C588.8 406.7 590.3 412.5 589 414C587.7 415.5 581.5 414.8 580 414C578.5 413.2 579.3 410.7 580 409Z" fill="#ffff00"/>
<path d="M601.7 386 L612 383 L614 396 L645 396 L645 414 L601.7 414Z" fill="#ffff00"/>
<path d="M612 384C612.7 382 613 380.7 616 380C619 379.3 625.3 379.3 630 380C634.7 380.7 641.2 382 644 384C646.8 386 647 389.8 647 392C647 394.2 646.8 396.3 644 397C641.2 397.7 634.7 396.2 630 396C625.3 395.8 619 396.7 616 396C613 395.3 612.7 394 612 392C611.3 390 611.3 386 612 384Z" fill="#b4b4b4"/>
<path d="M614 384C614.7 382.9 617.3 382.1 620 381.8C622.7 381.5 627.5 381.5 630 382C632.5 382.5 634.2 383.8 634.7 385C635.2 386.2 634.8 388.3 633 389C631.2 389.7 626.8 389.5 624 389.4C621.2 389.3 617.7 389.4 616 388.5C614.3 387.6 613.3 385.1 614 384Z" fill="#ffffff"/>
<path d="M645 403 L690 400 L690 414 L645 414Z" fill="#ffffff"/>
<path d="M629.6 375C629.8 373.1 632.3 371.3 634 370.5C635.7 369.7 638.6 369.2 640 370C641.4 370.8 642.3 373.2 642.3 375C642.3 376.8 641.5 379.8 640 381C638.5 382.2 634.7 383 633 382C631.3 381 629.4 376.9 629.6 375Z" fill="#ffff00"/>
<path d="M642 392C643 389.7 645.7 388.3 648 388C650.3 387.7 654 388.7 656 390C658 391.3 659.3 394 660 396C660.7 398 663 401 660 402C657 403 645 403.7 642 402C639 400.3 641 394.3 642 392Z" fill="#ffff00"/>
<path d="M646 330C646.8 326.7 648.7 321.7 652 318C655.3 314.3 661.3 310 666 308C670.7 306 675.3 307.2 680 306C684.7 304.8 689.3 302.5 694 301C698.7 299.5 703.3 297.3 708 297C712.7 296.7 718 299.3 722 299C726 298.7 728.7 294.8 732 295C735.3 295.2 739.8 297.8 742 300C744.2 302.2 745 305 745 308C745 311 743.5 315 742 318C740.5 321 737.8 323 736 326C734.2 329 732 332.3 731 336C730 339.7 731.5 346.3 730 348.4C728.5 350.5 724.3 349 722 348.4C719.7 347.8 717.7 346.3 716 345C714.3 343.7 712.8 342.5 712 340.8C711.2 339.1 711.4 336.7 711 335C710.6 333.3 711 332.3 709.5 330.7C708 329.1 704.6 326.4 702 325.6C699.4 324.8 696.5 325.6 694 325.8C691.5 326 688.9 326.5 686.7 327C684.5 327.5 682.7 328 681 329C679.3 330 677.7 330.7 676.5 333C675.3 335.3 674.8 339.8 674 343C673.2 346.2 673.8 350.2 671.5 352C669.2 353.8 664.1 353.1 660 353.5C655.9 353.9 649.6 355.8 647 354.5C644.4 353.2 644.5 348.8 644.5 346C644.5 343.2 646.8 340.7 647 338C647.2 335.3 645.2 333.3 646 330Z" fill="#ffff00"/>
<path d="M652 324C652 322 654 318.3 656 316C658 313.7 660 311.7 664 310C668 308.3 675 307.7 680 306C685 304.3 689.3 301.7 694 300C698.7 298.3 703.3 296.5 708 296C712.7 295.5 719.7 295.5 722 297C724.3 298.5 722.2 302.8 722 305C721.8 307.2 722.6 308.6 720.9 310.4C719.2 312.1 716 314.4 712 315.5C708 316.6 701 315.9 696.8 316.7C692.6 317.5 690.5 319.9 686.7 320.5C682.9 321.1 677.4 320.9 674 320.5C670.6 320.1 668.7 317.4 666.4 318C664.1 318.6 661.7 322.3 660 324C658.3 325.7 657.3 328 656 328C654.7 328 652 326 652 324Z" fill="#ffd37f"/>
<path d="M649 330C650.6 328.3 653.8 329.2 656 330C658.2 330.8 660.7 332.7 662 335C663.3 337.3 664.3 341.5 664 344C663.7 346.5 662.7 348.8 660 350C657.3 351.2 650.2 352.7 648 351C645.8 349.3 646.3 343.5 646.5 340C646.7 336.5 647.4 331.7 649 330Z" fill="#ffd37f"/>
<path d="M714 328C715.2 326.3 717.6 325.6 720 325.6C722.4 325.6 727 325.6 728.5 328C730 330.4 729.4 337 729 340C728.6 343 727.8 345.2 726 346C724.2 346.8 720.2 346.7 718 345C715.8 343.3 713.7 338.8 713 336C712.3 333.2 712.8 329.7 714 328Z" fill="#ffd37f"/>
<path d="M657.5 318C657.9 316.3 659.6 314.3 661 314C662.4 313.7 665.1 314.7 666 316C666.9 317.3 666.9 320.4 666.4 322C665.9 323.6 664.3 325.3 663 325.6C661.7 325.9 659.4 325.3 658.5 324C657.6 322.7 657.1 319.7 657.5 318Z" fill="#b4b4b4"/>
<path d="M724.7 318C725.4 316.2 727.3 312.9 729 312C730.7 311.1 733.6 311.5 735 312.5C736.4 313.5 737.4 315.9 737.4 318C737.4 320.1 736.6 323.5 735 325C733.4 326.5 729.7 327.3 728 327C726.3 326.7 725.2 324.5 724.7 323C724.2 321.5 724 319.8 724.7 318Z" fill="#b4b4b4"/>
<path d="M631 376C631.5 374.6 633.5 372.5 635 372C636.5 371.5 639 372 640 373C641 374 641.5 376.7 641 378C640.5 379.3 638.5 380.6 637 381C635.5 381.4 633 381.3 632 380.5C631 379.7 630.5 377.4 631 376Z" fill="#ffff00"/>
<path d="M712 372C712.3 370 714.1 369 715 369C715.9 369 717.2 370.2 717.5 372C717.8 373.8 717.8 378.5 717 380C716.2 381.5 713.8 382.3 713 381C712.2 379.7 711.7 374 712 372Z" fill="#ffffff"/>
<path d="M191.6 51.6 L193 58 L191 64 L193 72 L195 80 L195 82 L193 102 L192 118 L194 130 L186 134 L188 148 L192 164 L193 174" fill="none" stroke="#241808" stroke-opacity="0.9" stroke-width="0.8" stroke-linejoin="round"/>
<path d="M193 174 L186 182 L180 186 L175 190" fill="none" stroke="#241808" stroke-opacity="0.9" stroke-width="0.8" stroke-linejoin="round"/>
<path d="M193 174 L200 170 L210 186 L220 194 L230 204 L227 212 L227 224 L238 238 L242 246 L248 252 L256 256 L261 262 L262.3 269.3 L267 274 L266 280 L265.3 285 L265 289" fill="none" stroke="#241808" stroke-opacity="0.9" stroke-width="0.8" stroke-linejoin="round"/>
<path d="M230 204 L244 190 L252 176 L258 175 L270 180 L280 184 L290 186 L296 180 L298 175 L304 170 L309 164 L308 150 L310 140 L316 128 L320 118" fill="none" stroke="#241808" stroke-opacity="0.9" stroke-width="0.8" stroke-linejoin="round"/>
<path d="M298 175 L304 178 L318.7 181 L323 191" fill="none" stroke="#241808" stroke-opacity="0.9" stroke-width="0.8" stroke-linejoin="round"/>
<path d="M338 237 L330 238 L320 240 L310 248 L308 256 L302 266 L300 278" fill="none" stroke="#241808" stroke-opacity="0.9" stroke-width="0.8" stroke-linejoin="round"/>
<path d="M267 274 L273.2 276.6 L278 277.8 L281 281.4 L278.7 286.3 L284 288 L289 292.3 L292.6 294.8 L296.3 291 L301 292.3 L304.8 290 L309.6 287.5" fill="none" stroke="#241808" stroke-opacity="0.9" stroke-width="0.8" stroke-linejoin="round"/>
<path d="M296.3 292.3 L293.8 299.6 L297.5 304.5 L300 308 L306 312" fill="none" stroke="#241808" stroke-opacity="0.9" stroke-width="0.8" stroke-linejoin="round"/>
<path d="M303.5 262 L301 269.3 L299.3 276.6 L301 282.6 L303.5 285.7" fill="none" stroke="#241808" stroke-opacity="0.9" stroke-width="0.8" stroke-linejoin="round"/>
<path d="M309.6 287.5 L307 293.6 L308.4 297 L312 292.3 L315.7 290 L314.5 298.4 L320.5 299.6 L323 293.6" fill="none" stroke="#241808" stroke-opacity="0.9" stroke-width="0.8" stroke-linejoin="round"/>
<path d="M338 230 L339 224 L344 220 L356 222 L364 228 L376 230 L384 238" fill="none" stroke="#241808" stroke-opacity="0.9" stroke-width="0.8" stroke-linejoin="round"/>
<path d="M389.7 173.5 L384.5 180.4 L375.8 187.3 L381 196 L386.2 206.4 L393 213.3 L396.6 216.8 L386.2 218.5 L384.5 222 L385.3 234 L384 238 L382.7 239" fill="none" stroke="#241808" stroke-opacity="0.9" stroke-width="0.8" stroke-linejoin="round"/>
<path d="M384 238 L380 242 L376 250 L368 260 L356 266 L348 268 L348 274" fill="none" stroke="#241808" stroke-opacity="0.9" stroke-width="0.8" stroke-linejoin="round"/>
<path d="M355 222 L365.4 227 L374 229 L379.3 235 L384 238" fill="none" stroke="#241808" stroke-opacity="0.9" stroke-width="0.8" stroke-linejoin="round"/>
<path d="M412 170 L415.7 180.4 L423.5 187.3 L424.3 192.5 L431.3 195 L437.3 196 L439 208 L441.7 210.7 L436.5 215 L431.3 220.3 L424.3 223.7 L421.7 229.8 L414 232.4 L412 238.5 L414 246 L410 254 L404 262 L398 272" fill="none" stroke="#241808" stroke-opacity="0.9" stroke-width="0.8" stroke-linejoin="round"/>
<path d="M391 246 L392 266 L398 272" fill="none" stroke="#241808" stroke-opacity="0.9" stroke-width="0.8" stroke-linejoin="round"/>
<path d="M396 152 L400 158 L405.8 163 L409.6 175 L415.5 184 L424 188" fill="none" stroke="#241808" stroke-opacity="0.9" stroke-width="0.8" stroke-linejoin="round"/>
<path d="M360 290.4 L368.7 287 L370.4 295.6 L365.2 306 L363.5 320 L366 330 L362 338" fill="none" stroke="#241808" stroke-opacity="0.9" stroke-width="0.8" stroke-linejoin="round"/>
<path d="M370.4 308.6 L379 311 L386 313 L393 312 L399 316" fill="none" stroke="#241808" stroke-opacity="0.9" stroke-width="0.8" stroke-linejoin="round"/>
<path d="M406.8 321.6 L403.3 328.5 L394.7 332 L391 339 L394.7 347.6" fill="none" stroke="#241808" stroke-opacity="0.9" stroke-width="0.8" stroke-linejoin="round"/>
<path d="M417.2 332 L413.7 339 L410.3 345.9" fill="none" stroke="#241808" stroke-opacity="0.9" stroke-width="0.8" stroke-linejoin="round"/>
<path d="M443.2 300.8 L441.5 309.5 L443.2 320 L446.7 330 L443.2 340.7" fill="none" stroke="#241808" stroke-opacity="0.9" stroke-width="0.8" stroke-linejoin="round"/>
<path d="M398 272 L404 280 L412 284 L420 282 L428 290 L436 296 L443.2 300.8" fill="none" stroke="#241808" stroke-opacity="0.9" stroke-width="0.8" stroke-linejoin="round"/>
<path d="M289 377 L295 373 L303 371 L313 372 L315 378 L313 385 L321 383 L327 378 L331 378" fill="none" stroke="#241808" stroke-opacity="0.9" stroke-width="0.8" stroke-linejoin="round"/>
<path d="M313 385 L311 392 L314 397" fill="none" stroke="#241808" stroke-opacity="0.9" stroke-width="0.8" stroke-linejoin="round"/>
<path d="M349 412 L351 404 L359 398 L358 402" fill="none" stroke="#241808" stroke-opacity="0.9" stroke-width="0.8" stroke-linejoin="round"/>
<path d="M327 353 L333 352 L337 358 L335 364 L339 370 L338 377 L331 378" fill="none" stroke="#241808" stroke-opacity="0.9" stroke-width="0.8" stroke-linejoin="round"/>
<path d="M337 352 L345 347 L353 345 L355 338 L353 330" fill="none" stroke="#241808" stroke-opacity="0.9" stroke-width="0.8" stroke-linejoin="round"/>
<path d="M365 348 L371 352 L375 356 L385 356 L395 354 L399 360 L399 370 L395 378 L391 388 L386 388 L385 394" fill="none" stroke="#241808" stroke-opacity="0.9" stroke-width="0.8" stroke-linejoin="round"/>
<path d="M385 357.5 L391 357 L397 350.8 L400.8 352 L403.2 359.3 L400.8 365.3 L399.6 371.4 L396 375" fill="none" stroke="#241808" stroke-opacity="0.9" stroke-width="0.8" stroke-linejoin="round"/>
<path d="M420.2 359.3 L425 355.6 L430 354.4 L433.5 359.3" fill="none" stroke="#241808" stroke-opacity="0.9" stroke-width="0.8" stroke-linejoin="round"/>
<path d="M421.4 375 L427.5 370.2 L432.3 373.8 L433.5 380 L431 383.5" fill="none" stroke="#241808" stroke-opacity="0.9" stroke-width="0.8" stroke-linejoin="round"/>
<path d="M442 346 L445.7 342.3 L453 340 L456.6 336.2 L457.8 342.3 L453 347 L448 346 L442 346" fill="none" stroke="#241808" stroke-opacity="0.9" stroke-width="0.8" stroke-linejoin="round"/>
<path d="M450.5 347 L453 352" fill="none" stroke="#241808" stroke-opacity="0.9" stroke-width="0.8" stroke-linejoin="round"/>
<path d="M475 354 L473 364 L479 370 L483 376 L477 380 L477 388 L483 392 L489 396 L493 392 L495 398 L503 402 L511 410" fill="none" stroke="#241808" stroke-opacity="0.9" stroke-width="0.8" stroke-linejoin="round"/>
<path d="M435 364 L437 370 L443 372 L441 380 L439 390 L433 398 L426 402" fill="none" stroke="#241808" stroke-opacity="0.9" stroke-width="0.8" stroke-linejoin="round"/>
<path d="M445 368 L451 364 L459 366 L465 372 L455 376 L449 374 L445 368" fill="none" stroke="#241808" stroke-opacity="0.9" stroke-width="0.8" stroke-linejoin="round"/>
<path d="M435 400 L439 406 L449 408 L461 409 L465 404 L477 404 L483 400" fill="none" stroke="#241808" stroke-opacity="0.9" stroke-width="0.8" stroke-linejoin="round"/>
<path d="M561 398 L563 410" fill="none" stroke="#241808" stroke-opacity="0.9" stroke-width="0.8" stroke-linejoin="round"/>
<path d="M640 400 L640 412" fill="none" stroke="#241808" stroke-opacity="0.9" stroke-width="0.8" stroke-linejoin="round"/>
<path d="M650 324 L656 330.7 L666.4 337 L674 346 L682.9 353.5" fill="none" stroke="#241808" stroke-opacity="0.9" stroke-width="0.8" stroke-linejoin="round"/>
<path d="M682.9 353.5 L691.7 343 L702 334.5 L712 328 L718.3 318 L722 305 L722 297" fill="none" stroke="#241808" stroke-opacity="0.9" stroke-width="0.8" stroke-linejoin="round"/>
<path d="M682.9 353.5 L685.4 366 L686.7 384 L689 398" fill="none" stroke="#241808" stroke-opacity="0.9" stroke-width="0.8" stroke-linejoin="round"/>
</g>
<g clip-path="url(#bajac)" opacity="0.6"><rect x="0" y="0" width="200" height="300" filter="url(#relief)"/></g>
<path d="M53 13 L141 49 L183 51.5 L208 50 L208 41 L249 41 L250 42 L256 50 L262 54 L267 62 L275 67 L285 75 L289.6 84.5 L293 94 L299 102 L301.5 104.5 L305 110 L313 114 L320 117 L326 118 L332 112 L335 106 L338 100 L347 95 L358 96 L369 97 L372 104 L380 110 L388 120 L394 130 L402 140 L408 150 L414 156 L416 164 L424 180 L425.3 186.2 L436.3 191 L446 194 L455.7 195.3 L463 198.3 L469 200.2 L474 196.5 L473 204 L469 214 L465 224 L463 234 L462 246 L461 266 L459 286 L461.4 295 L463.8 302.3 L467.5 308.3 L472.3 312 L473.2 316.8 L470.5 321 L474 327 L476 330 L484 342 L494 356 L502 372 L512 382 L526 387 L538 390 L548 398 L558 400 L570 394 L586 390 L600 385 L608 383 L620 380 L632 374 L642 366 L645 354 L648 342 L649 330 L648 328 L652 318 L666 308 L680 306 L694 301 L708 297 L722 299 L732 295 L740 300 L743 308 L740 318 L734 326 L728 330 L726 342 L724 350 L725 362 L724 374 L722 384 L720 388 L716 380 L708 380 L704 384 L698 394 L690 396 L690 399 L640 400 L640 414 L349 414 L349 412.5 L335 408 L321 402 L311 394 L301 385 L290 380 L280 374 L272 366 L264 354 L261 344 L264 334 L270 328 L272 322 L270 314 L264 308 L261 298 L262 289 L258 286 L250 276 L242 266 L234 254 L225 246 L224 244 L216 238 L210 232 L204 226 L198 218 L190 211 L180 206 L173 200 L174 192 L179 184 L176 178 L166 172 L160 164 L150 159 L147 156 L146 146 L140 140 L130 134 L124 126 L118 118 L113 110 L112 102 L109 98 L104 90 L99 82 L96 68 L91 58 L92 49 L82 43 L80 38 L74 37 L68 38 L60 33 L54 30 L51 20Z" fill="none" stroke="#3a3024" stroke-width="0.8" stroke-linejoin="round"/>
<path d="M111 102C112.3 101.2 116.4 98.7 119 97C121.6 95.3 124.4 93.7 126.4 91.6C128.5 89.5 129.7 86.5 131.3 84.3C132.9 82.1 133.8 79.9 136 78.2C138.2 76.5 141.2 75.1 144.6 74C148 72.9 152.6 72.2 156.7 71.5C160.8 70.8 165.3 69.9 168.9 69.7C172.5 69.5 175.2 69.7 178 70.2C180.8 70.7 183.5 71.4 186 72.5C188.5 73.6 191.2 75.1 193 77C194.8 78.9 195.8 81.5 197 84C198.2 86.5 198.7 89.7 200 92C201.3 94.3 203 96.2 205 98C207 99.8 208.5 101.5 212 103C215.5 104.5 220.3 106.2 226 107C231.7 107.8 240.3 107.5 246 108C251.7 108.5 252.8 109.1 260 110C267.2 110.9 281.7 112.2 289 113.5C296.3 114.8 299.1 116.3 304 118C308.9 119.7 314.3 121.5 318.7 123.7C323.1 125.9 327 129.5 330.4 131C333.8 132.5 334.8 133.5 339.2 132.5C343.6 131.5 351.4 127.2 356.8 125.2C362.2 123.2 366.1 121.4 371.5 120.8C376.9 120.2 385.2 120.2 389 121.7C392.8 123.2 392 127 394 130C396 133 398.7 136.3 400.8 139.9C402.9 143.5 405.9 147.9 406.7 151.6C407.5 155.3 405.7 160.3 405.5 162" fill="none" stroke="#0a0a0a" stroke-width="1.7" stroke-linejoin="round" stroke-linecap="round"/>
<path d="M406.7 151.6C406.5 153.3 406.9 159.3 405.5 162C404.1 164.7 400.8 166.6 398 168C395.2 169.4 393.4 170.2 389 170.7C384.6 171.1 376.4 170 371.5 170.7C366.6 171.4 363.6 173.1 359.7 175C355.8 176.9 351.9 179.8 348 182C344.1 184.2 339.3 187 336 188.5C332.7 190 330.7 189.8 328 191C325.3 192.2 321.8 193.8 320 196C318.2 198.2 317.3 201.3 317 204C316.7 206.7 316.8 209.3 318 212C319.2 214.7 321.7 217.5 324 220C326.3 222.5 329.8 225.3 332 227C334.2 228.7 335.9 228.3 337 230C338.1 231.7 338.9 235.3 338.4 237C337.9 238.7 335.7 239.7 334 240C332.3 240.3 330 239.8 328 239C326 238.2 324 236.3 322 235C320 233.7 318.2 231.8 316 231C313.8 230.2 311 229.7 309 230C307 230.3 305.5 231 304 233C302.5 235 301.2 238.5 300 242C298.8 245.5 298.3 250.2 297 254C295.7 257.8 293.2 261.5 292 265C290.8 268.5 290 272 290 275C290 278 290.7 281 292 283C293.3 285 295.5 286.7 298 287C300.5 287.3 304.2 286.3 307 285C309.8 283.7 312.3 280.8 315 279C317.7 277.2 320.3 275.1 323 274C325.7 272.9 328.3 272.6 331 272.6C333.7 272.6 336.2 273.6 339 274C341.8 274.4 344.7 275.1 348 275C351.3 274.9 354.5 273.8 359 273.4C363.5 273 369.7 272.7 375 272.6C380.3 272.5 386.5 272.1 391 273C395.5 273.9 398.5 277.3 402 278C405.5 278.7 408.7 277.3 412 277C415.3 276.7 419.2 275.5 422 276C424.8 276.5 427.2 278.3 429 280C430.8 281.7 431.2 284.1 433 286C434.8 287.9 438.1 290 440 291.5C441.9 293 442.4 293.4 444.4 295C446.3 296.6 449.1 298.8 451.7 301C454.3 303.2 457.8 305.9 460.2 308.3C462.6 310.7 464.5 313.2 466.3 315.6C468.1 318.1 469.5 320.6 471.1 323C472.7 325.4 474.4 327.6 476 330C477.6 332.4 479.4 335.2 480.8 337.5C482.2 339.8 483.9 342.5 484.5 343.5" fill="none" stroke="#0a0a0a" stroke-width="2.5" stroke-linejoin="round" stroke-linecap="round"/>
<path d="M111 102C111.3 103.3 111.8 107.3 113 110C114.2 112.7 116.2 115.3 118 118C119.8 120.7 122 123.3 124 126C126 128.7 127.3 131.7 130 134C132.7 136.3 137.3 138 140 140C142.7 142 144.8 143.3 146 146C147.2 148.7 146.3 153.8 147 156C147.7 158.2 147.8 157.7 150 159C152.2 160.3 157.3 161.8 160 164C162.7 166.2 163.3 169.7 166 172C168.7 174.3 173.8 176 176 178C178.2 180 179.3 181.7 179 184C178.7 186.3 175 189.3 174 192C173 194.7 172 197.7 173 200C174 202.3 177.2 204.2 180 206C182.8 207.8 187 209 190 211C193 213 195.7 215.5 198 218C200.3 220.5 202 223.7 204 226C206 228.3 208 230 210 232C212 234 213.7 236 216 238C218.3 240 221 241.3 224 244C227 246.7 231 250.3 234 254C237 257.7 239.3 262.3 242 266C244.7 269.7 247.8 273.5 250 276C252.2 278.5 253.2 279.2 255 281C256.8 282.8 258.7 285.8 261 287C263.3 288.2 266.3 287 269 288C271.7 289 275.3 291 277 293C278.7 295 279.4 297.3 279.4 300C279.4 302.7 278.4 306.5 277 309C275.6 311.5 272.2 313 271 315C269.8 317 269.7 319.3 270 321C270.3 322.7 271.5 324.2 273 325C274.5 325.8 277 325.2 279 325.5C281 325.8 283 326 285 326.8C287 327.6 289.2 329.5 291 330.5C292.8 331.5 294.4 332.7 296 333C297.6 333.3 299 333.1 300.8 332.3C302.6 331.5 304.8 329.9 306.8 328C308.8 326.1 311 322.6 313 320.8C315 319 316.6 317.7 319 317C321.4 316.3 324.7 316.6 327.5 316.5C330.3 316.4 333.4 317 336 316.5C338.6 316 340.8 314.8 343 313.5C345.2 312.2 347.7 310.4 349 308.6C350.3 306.9 350.7 304.9 351 303C351.3 301.1 350.5 298.7 351 297C351.5 295.3 352.8 293.3 354 293C355.2 292.7 357 293.3 358 295C359 296.7 359.8 300.3 359.8 303C359.8 305.7 358.9 308.8 357.8 311C356.7 313.2 355 314.4 353 316C351 317.6 348.4 318.8 345.7 320.8C343 322.8 339 326.3 337 328C335 329.7 335.7 330.1 333.5 331C331.3 331.9 326.9 332.6 323.8 333.5C320.7 334.4 317.5 335.4 315 336.5C312.5 337.6 310.6 338.4 309 340C307.4 341.6 306.4 343.6 305.6 346C304.8 348.4 303.7 352.2 304.4 354.7C305.1 357.2 307.4 359.3 310 361C312.6 362.7 316.7 362.8 320 365C323.3 367.2 326.7 370.8 330 374C333.3 377.2 336 381 340 384C344 387 350.3 389.7 354 392C357.7 394.3 359.7 395.7 362 398C364.3 400.3 365.8 404.2 368 406C370.2 407.8 372.8 409.5 375 408.5C377.2 407.5 379 402.2 381 400C383 397.8 384 396 387 395C390 394 395 393.8 399 394C403 394.2 408 394.8 411 396C414 397.2 414.7 399.8 417 401C419.3 402.2 422 403.2 425 403C428 402.8 432.3 401.5 435 400C437.7 398.5 439.5 396.7 441 394C442.5 391.3 443.8 387.3 444 384C444.2 380.7 443.2 376.7 442 374C440.8 371.3 438.2 369.7 437 368C435.8 366.3 434.7 365.2 435 364C435.3 362.8 437 361.7 439 361C441 360.3 445 360.8 447 360C449 359.2 449 357.3 451 356C453 354.7 456 353 459 352C462 351 465.7 350.5 469 350C472.3 349.5 476.4 350.1 479 349C481.6 347.9 483.6 344.4 484.5 343.5" fill="none" stroke="#0a0a0a" stroke-width="2.4" stroke-linejoin="round" stroke-linecap="round"/>
</g>
<g opacity="0.995">
<text x="261" y="75" font-size="11.5" font-weight="bold" fill="#1a0d00" text-anchor="middle">SL</text>
<text x="439.6" y="233.8" font-size="11.5" font-weight="bold" fill="#1a0d00" text-anchor="middle">SL</text>
<text x="706.5" y="312" font-size="11.5" font-weight="bold" fill="#1a0d00" text-anchor="middle">SL</text>
<text x="244.7" y="168.2" font-size="11.6" font-weight="bold" fill="#1a0d00" text-anchor="middle">L</text>
<text x="371.9" y="373.3" font-size="11.6" font-weight="bold" fill="#1a0d00" text-anchor="middle">L</text>
<text x="236.9" y="25.7" font-size="21.7" font-weight="bold" font-style="normal" fill="#0c0c0c" textLength="339" lengthAdjust="spacingAndGlyphs" stroke="#0c0c0c" stroke-width="0.55" stroke-linejoin="round">Monitor de Sequía de México</text>
<text x="310.3" y="45.2" font-size="14.4" font-weight="bold" font-style="normal" fill="#0c0c0c" textLength="193.5" lengthAdjust="spacingAndGlyphs" stroke="#0c0c0c" stroke-width="0.4" stroke-linejoin="round">al 29 de febrero de 2024</text>
<text x="316.8" y="63.2" font-size="10.2" font-weight="bold" font-style="normal" fill="#0c0c0c" textLength="180.2" lengthAdjust="spacingAndGlyphs" stroke="#0c0c0c" stroke-width="0.3" stroke-linejoin="round">Publicado el 4 de marzo de 2024</text>
<text x="8.4" y="274.2" font-size="9" font-weight="bold" font-style="italic" fill="#2a2a2a" textLength="95.5" lengthAdjust="spacingAndGlyphs">Intensidad de sequía:</text>
<rect x="8.4" y="275.3" width="95.5" height="0.9" fill="#1e1e1e"/>
<rect x="7.9" y="280.7" width="13.2" height="10.6" fill="#ffff00"/>
<rect x="7.9" y="291.3" width="13.2" height="11.0" fill="#ffd37f"/>
<rect x="7.9" y="302.3" width="13.2" height="11.1" fill="#e69800"/>
<rect x="7.9" y="313.4" width="13.2" height="10.5" fill="#e60000"/>
<rect x="7.9" y="323.9" width="13.2" height="10.7" fill="#730000"/>
<rect x="7.9" y="337.4" width="13.2" height="9.8" fill="#bdbdbd"/>
<text x="24" y="287.9" font-size="9" font-weight="normal" font-style="normal" fill="#2a2a2a" textLength="97.7" lengthAdjust="spacingAndGlyphs">D0 Anormalmente seco</text>
<text x="24" y="298.7" font-size="9" font-weight="normal" font-style="normal" fill="#2a2a2a" textLength="88.8" lengthAdjust="spacingAndGlyphs">D1 Sequía moderada</text>
<text x="24" y="309.6" font-size="9" font-weight="normal" font-style="normal" fill="#2a2a2a" textLength="75.1" lengthAdjust="spacingAndGlyphs">D2 Sequía severa</text>
<text x="24" y="320.9" font-size="9" font-weight="normal" font-style="normal" fill="#2a2a2a" textLength="82" lengthAdjust="spacingAndGlyphs">D3 Sequía extrema</text>
<text x="24" y="333.4" font-size="9" font-weight="normal" font-style="normal" fill="#2a2a2a" textLength="97.2" lengthAdjust="spacingAndGlyphs">D4 Sequía excepcional</text>
<text x="24" y="345.4" font-size="9" font-weight="normal" font-style="normal" fill="#2a2a2a" textLength="44.5" lengthAdjust="spacingAndGlyphs">Sin sequía</text>
<text x="8.4" y="360" font-size="9" font-weight="bold" font-style="italic" fill="#2a2a2a" textLength="124.6" lengthAdjust="spacingAndGlyphs">Tipos de impacto de sequía:</text>
<rect x="8.4" y="361.2" width="124.6" height="0.9" fill="#1e1e1e"/>
<path d="M8.2 377.8C8.6 374.2 10.8 372.6 13.6 374.2C16.6 376 19.4 375.2 21.6 371.6L23.6 370.4" fill="none" stroke="#080808" stroke-width="2.2" stroke-linecap="round"/>
<text x="33" y="378.2" font-size="9" font-weight="normal" font-style="normal" fill="#2a2a2a" textLength="126" lengthAdjust="spacingAndGlyphs">Delimita impactos dominantes</text>
<text x="8.4" y="390" font-size="9" font-weight="normal" font-style="normal" fill="#2a2a2a" textLength="167" lengthAdjust="spacingAndGlyphs">S= Corto periodo, típicamente &lt;6meses</text>
<text x="24" y="400.4" font-size="8.4" font-weight="normal" font-style="normal" fill="#2a2a2a" textLength="117" lengthAdjust="spacingAndGlyphs">(p.ej. agricultura, pastizales)</text>
<text x="8.4" y="413.6" font-size="9" font-weight="normal" font-style="normal" fill="#2a2a2a" textLength="169" lengthAdjust="spacingAndGlyphs">L= Largo periodo, típicamente &gt;6 meses</text>
<g id="conagua"><path d="M549.5 137.2C549 141 547 143.6 545 146.4C541.6 151 540.2 155.4 541.4 159.6C542.8 164 547 166.6 552.4 166.6C554.8 166.6 556.6 165.6 557.4 163.6C554.6 165 550.6 164.8 547.6 162.6C544.4 160.2 543.6 156 544.8 152C545.8 148.6 547.8 146 549 143.4C550 141.2 550.2 139.2 549.5 137.2Z" fill="#2d7ab5"/><path d="M549.5 137.2C545.6 140.6 540.6 146.6 538.6 152.6C536.8 158.4 538.6 163.8 543.4 166.4C546.6 168 550.6 168 553.6 167C548.4 166.8 543.6 164.4 541.8 160C540 155.4 541.6 150.6 544.6 146.4C546.8 143.4 548.8 140.8 549.5 137.2Z" fill="#1c5a8e"/><path d="M550 141.4C548.8 145 546.6 147.4 545 150.6C543.4 153.8 543.2 157.2 545 159.8C546.2 161.4 548 162.4 550 162.8C547.6 161.2 546.6 158.6 547 155.8C547.4 152.6 548.8 150.2 549.8 147.4C550.4 145.4 550.6 143.4 550 141.4Z" fill="#86c1e8"/><path d="M546.6 153.6C547.6 150.6 550.6 148.8 553.4 149.2C555 149.4 556 150.6 556.2 151.8L557.6 154.8L554.8 154.6C555 156.4 553.6 157.8 551.4 158.2C549.2 158.6 547.2 158.2 546 157.2C546.8 156.2 547 155 546.6 153.6Z" fill="#c08a48"/><path d="M545 160.6C548.6 159.6 552.6 160.4 556.6 159.4M545.6 162.6C549.4 161.8 553 162.4 557 161.4" fill="none" stroke="#fff" stroke-width="0.6"/></g>
<text x="563.3" y="153.8" font-size="18" fill="#4f5052" stroke="#4f5052" stroke-width="0.25" class="sf" textLength="83.6" lengthAdjust="spacingAndGlyphs">CONAGUA</text>
<text x="563.6" y="160.8" font-size="3.3" fill="#a58b5a" textLength="62.4" lengthAdjust="spacingAndGlyphs" letter-spacing="0.3">COMISIÓN NACIONAL DEL AGUA</text>
<rect x="659.6" y="141" width="0.8" height="25.6" fill="#c6ad78"/>
<g id="smn" fill="none" stroke-linecap="butt"><path d="M688.5 140.5A11.5 11.5 0 0 1 698.96 151" stroke="#1b3f7d" stroke-width="4.4" stroke-dasharray="4.4 0.7"/><path d="M676.04 153A11.5 11.5 0 0 0 686.5 163.46" stroke="#1b3f7d" stroke-width="4.4" stroke-dasharray="4.4 0.7"/><path d="M687.4 151.4 L687.5 151.6 L687.5 151.9 L687.5 152.2 L687.3 152.4 L687.1 152.7 L686.8 152.9 L686.4 153.0 L686.0 153.0 L685.5 152.9 L685.1 152.7 L684.7 152.3 L684.5 151.9 L684.3 151.3 L684.3 150.7 L684.4 150.1 L684.7 149.6 L685.1 149.1 L685.7 148.7 L686.4 148.4 L687.1 148.3 L687.9 148.5 L688.7 148.8 L689.3 149.3 L689.9 150.0 L690.2 150.8 L690.4 151.7 L690.3 152.6 L690.0 153.5 L689.5 154.4 L688.7 155.1 L687.8 155.6 L686.8 155.9 L685.6 155.9 L684.5 155.6 L683.5 155.1 L682.6 154.3 L681.9 153.3 L681.5 152.1 L681.3 150.8 L681.5 149.6" stroke="#e0a945" stroke-width="1.8"/><path d="M676.3 144.6 L676.3 144.5 L676.2 144.4 L676.2 144.2 L676.3 144.1 L676.4 144.0 L676.5 143.8 L676.6 143.7 L676.8 143.7 L677.0 143.6 L677.2 143.6 L677.4 143.7 L677.6 143.7 L677.8 143.9 L677.9 144.0 L678.1 144.3 L678.2 144.5 L678.2 144.8 L678.2 145.1 L678.2 145.3 L678.0 145.6 L677.8 145.9 L677.6 146.1 L677.3 146.3 L677.0 146.4 L676.6 146.5 L676.3 146.5 L675.9 146.4 L675.5 146.2 L675.2 146.0 L674.9 145.7 L674.7 145.3 L674.6 144.9 L674.5 144.5 L674.5 144.0 L674.6 143.6 L674.8 143.1 L675.1 142.7 L675.4 142.4 L675.9 142.1 L676.3 141.9" stroke="#e0a945" stroke-width="1.5"/><path d="M698.1 158.0 L698.1 158.1 L698.2 158.2 L698.2 158.4 L698.1 158.5 L698.0 158.6 L697.9 158.8 L697.8 158.9 L697.6 158.9 L697.4 159.0 L697.2 159.0 L697.0 158.9 L696.8 158.9 L696.6 158.7 L696.5 158.6 L696.3 158.3 L696.2 158.1 L696.2 157.8 L696.2 157.5 L696.2 157.3 L696.4 157.0 L696.6 156.7 L696.8 156.5 L697.1 156.3 L697.4 156.2 L697.8 156.1 L698.1 156.1 L698.5 156.2 L698.9 156.4 L699.2 156.6 L699.5 156.9 L699.7 157.3 L699.8 157.7 L699.9 158.1 L699.9 158.6 L699.8 159.0 L699.6 159.5 L699.3 159.9 L699.0 160.2 L698.5 160.5 L698.1 160.7" stroke="#e0a945" stroke-width="1.5"/><path d="M679.4 145.4C681.4 147 682 148.6 682.4 150.4" stroke="#e0a945" stroke-width="1.5"/><path d="M694.9 158.2C693 157.6 691.6 156.6 690.8 155" stroke="#e0a945" stroke-width="1.5"/></g>
<text x="705.3" y="153.4" font-size="18" fill="#4f5052" stroke="#4f5052" stroke-width="0.25" class="sf" textLength="37.8" lengthAdjust="spacingAndGlyphs">SMN</text>
<text x="705.4" y="160.4" font-size="2.9" fill="#a58b5a" textLength="18.4" lengthAdjust="spacing">SERVICIO</text>
<text x="705.4" y="163.9" font-size="2.9" fill="#a58b5a" textLength="32" lengthAdjust="spacing">METEOROLÓGICO</text>
<text x="705.4" y="167.4" font-size="2.9" fill="#a58b5a" textLength="18.4" lengthAdjust="spacing">NACIONAL</text>
<g id="compass"><path d="M703.4 201L705.2 213.8L717 215.6L705.2 217.4L703.4 229.4L701.6 217.4L688.4 215.6L701.6 213.8Z" fill="#111"/><path d="M703.4 201L703.4 215.6L705.2 213.8ZM717 215.6L703.4 215.6L705.2 217.4ZM703.4 229.4L703.4 215.6L701.6 217.4ZM688.4 215.6L703.4 215.6L701.6 213.8Z" fill="#fff" fill-opacity="0.75"/><path d="M703.4 201L705.2 213.8L717 215.6L705.2 217.4L703.4 229.4L701.6 217.4L688.4 215.6L701.6 213.8Z" fill="none" stroke="#111" stroke-width="0.5"/></g>
<text x="703.4" y="198.4" font-size="8.6" font-weight="bold" fill="#111" text-anchor="middle" class="sf">N</text>
<text x="703.4" y="238.6" font-size="8.6" font-weight="bold" fill="#111" text-anchor="middle" class="sf">S</text>
<text x="681.6" y="218.6" font-size="8.6" font-weight="bold" fill="#111" text-anchor="middle" class="sf">W</text>
<text x="722.8" y="218.6" font-size="8.6" font-weight="bold" fill="#111" text-anchor="middle" class="sf">E</text>
</g>
</svg>

</body></html>
